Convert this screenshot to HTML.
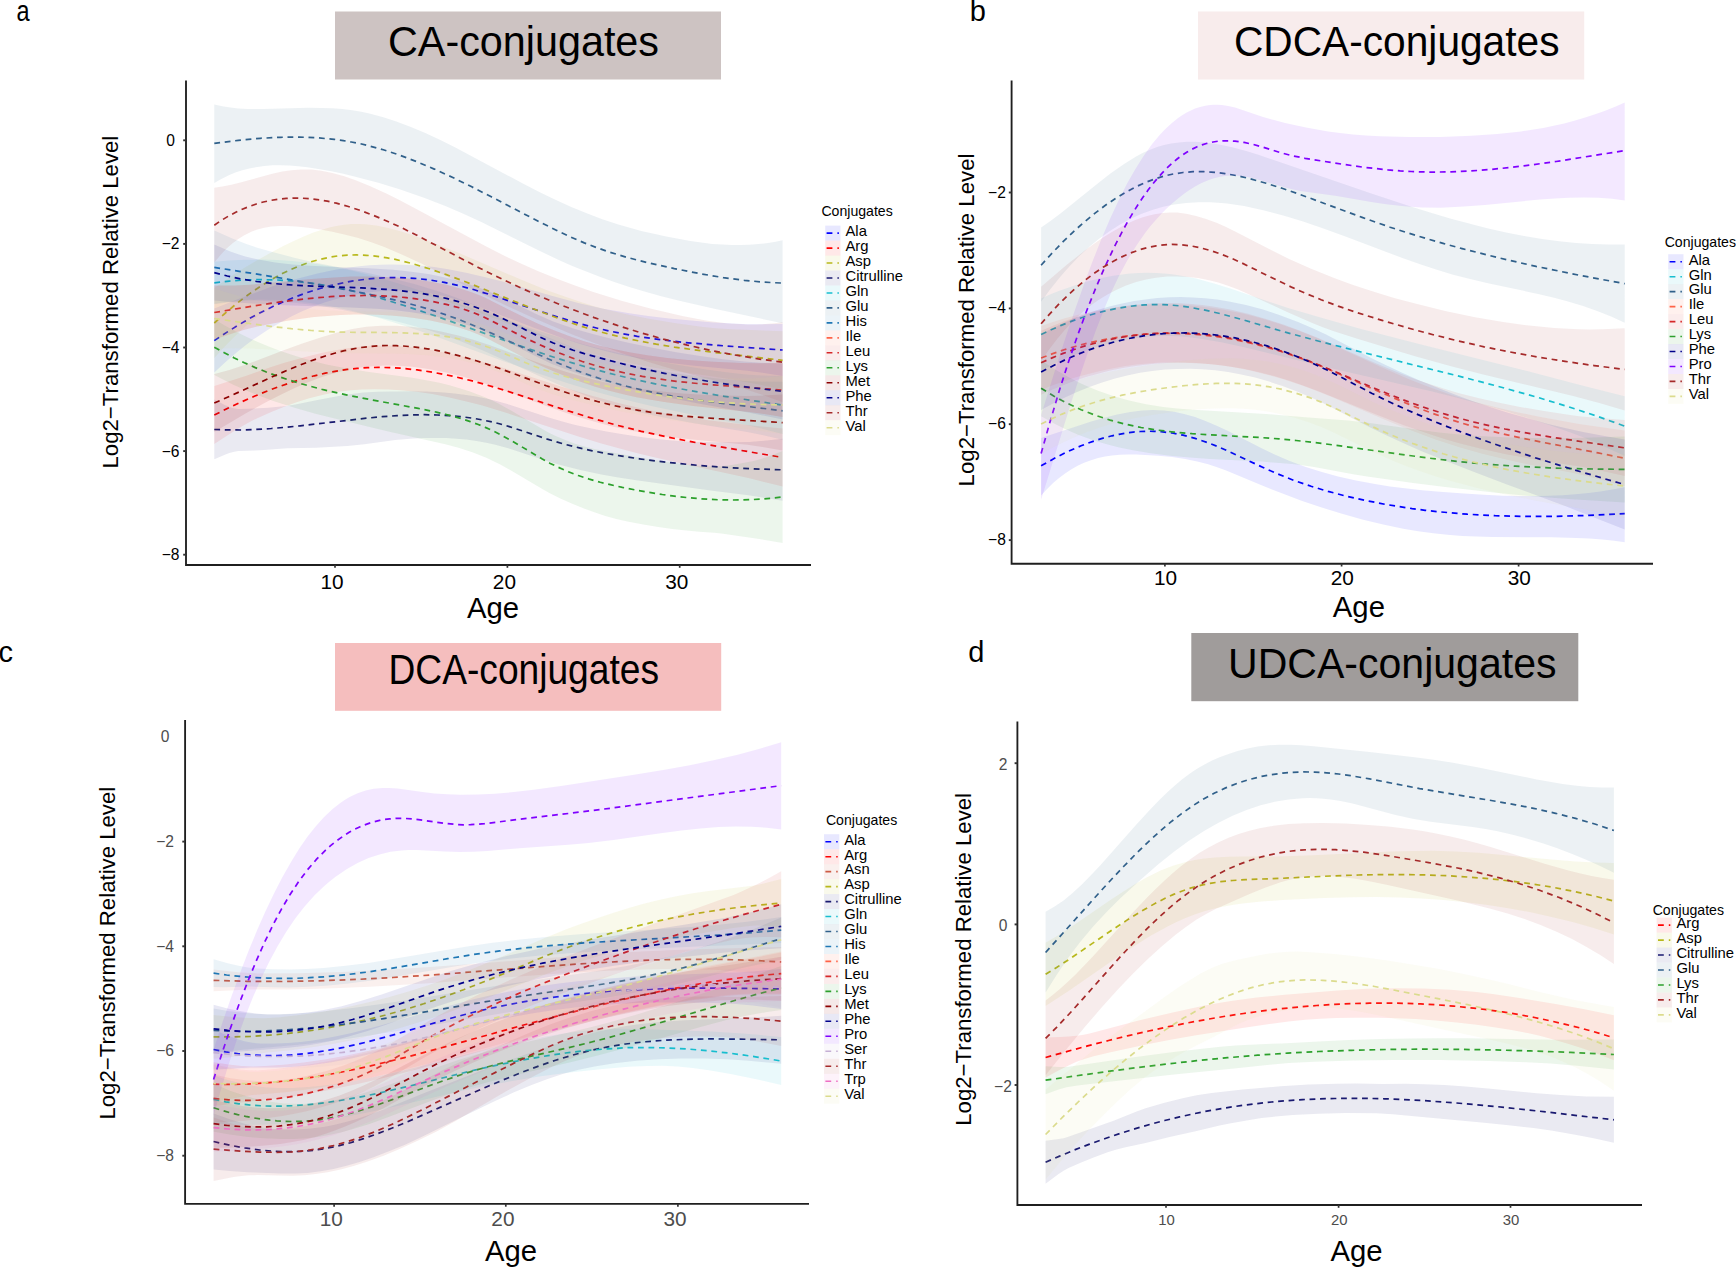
<!DOCTYPE html>
<html lang="en"><head><meta charset="utf-8"><title>Conjugates by age</title>
<style>
html,body{margin:0;padding:0;background:#fff;}
body{width:1736px;height:1269px;overflow:hidden;}
svg{display:block;}
svg text{font-family:"Liberation Sans",sans-serif;}
</style></head><body>
<svg width="1736" height="1269" viewBox="0 0 1736 1269">
<rect width="1736" height="1269" fill="#fff"/>

<g font-size="29" fill="#000">
<text transform="translate(16.6,21.2) scale(0.81,1)">a</text><text x="969.8" y="21.2">b</text><text x="-1.5" y="662.2">c</text><text x="968.3" y="662.2">d</text>
</g>
<rect x="335" y="11.5" width="386" height="68" fill="#cdc3c2"/><text x="388" y="56" font-size="43" textLength="271" lengthAdjust="spacingAndGlyphs">CA-conjugates</text>
<rect x="1198" y="11.5" width="386.2" height="68" fill="#f8ecec"/><text x="1234" y="55.5" font-size="43" textLength="325.5" lengthAdjust="spacingAndGlyphs">CDCA-conjugates</text>
<rect x="335" y="643" width="386.2" height="67.8" fill="#f5bebe"/><text x="388.5" y="683.8" font-size="43" textLength="270.5" lengthAdjust="spacingAndGlyphs">DCA-conjugates</text>
<rect x="1191.3" y="633" width="387" height="68.2" fill="#a09c9b"/><text x="1228" y="678" font-size="43" textLength="328.5" lengthAdjust="spacingAndGlyphs">UDCA-conjugates</text>
<!-- panel a -->
<g fill-opacity="0.09" stroke="none"><path d="M214.3,308.6 236.3,299.8 273.3,286.1 294.3,279.6 317.3,273.6 330.3,270.7 339.3,269 349.3,267.4 359.3,266.2 369.3,265.3 380.3,264.8 391.3,264.5 402.3,264.7 418.3,265.5 434.3,267.1 448.3,269.3 467.3,273.1 485.3,277.2 503.3,281.8 554.3,296.6 579.3,303.3 603.3,308.7 629.3,313.3 648.3,316 669.3,318.5 691.3,320.6 713.3,322.4 733.3,323.6 747.3,324.2 760.3,324.3 782.6,324 782.6,376 762.3,372.7 747.3,370.7 694.3,365.8 666.3,362.6 641.3,358.7 618.3,354.2 605.3,351.1 592.3,347.6 579.3,343.7 566.3,339.5 533.3,327.6 480.3,307.2 468.3,303 458.3,299.9 442.3,295.8 427.3,293 412.3,291.2 397.3,290.6 386.3,290.8 374.3,291.7 362.3,293.3 350.3,295.6 337.3,298.7 325.3,302.3 314.3,306.2 303.3,310.8 292.3,316 280.3,322.4 268.3,329.6 256.3,337.4 246.3,344.7 236.3,352.7 225.3,362.3 214.3,372.5Z" fill="#0000ff"/></g>
<g fill="none" stroke-width="1.7" stroke-dasharray="5.8 4.7"><path d="M214.3,340.6 226.3,332.6 238.3,325.1 250.3,318.1 261.3,312.2 273.3,306.3 284.3,301.4 296.3,296.5 307.3,292.5 319.3,288.7 330.3,285.7 342.3,283 353.3,280.9 365.3,279.3 376.3,278.2 388.3,277.6 399.3,277.6 414.3,278.3 429.3,279.9 444.3,282.4 460.3,286 474.3,289.8 489.3,294.4 548.3,314 573.3,321.8 586.3,325.4 598.3,328.5 610.3,331.2 623.3,333.8 637.3,336.3 652.3,338.5 667.3,340.5 684.3,342.4 718.3,345.4 782.6,350" stroke="#0000ff"/></g>
<g fill-opacity="0.09" stroke="none"><path d="M214.3,386.1 246.3,375.7 270.3,367.3 284.3,362.8 303.3,357.4 322.3,352.8 334.3,350.4 345.3,348.6 355.3,347.2 364.3,346.2 373.3,345.6 382.3,345.4 390.3,345.6 400.3,346.2 416.3,347.8 433.3,350.3 451.3,353.9 469.3,358.1 484.3,362.2 500.3,366.9 559.3,385.9 588.3,394.7 618.3,402.9 647.3,409.7 661.3,412.6 675.3,415.1 706.3,419.9 745.3,424.8 782.6,428.5 782.6,486.5 748.3,478.1 689.3,465.2 657.3,458 639.3,453.7 623.3,449.6 601.3,443.4 578.3,436.4 500.3,410.9 482.3,405.6 466.3,401.4 449.3,397.4 432.3,394.1 416.3,391.8 400.3,390.2 388.3,389.5 374.3,389.3 362.3,389.5 351.3,390.3 340.3,391.5 330.3,393.2 320.3,395.4 309.3,398.3 297.3,402 284.3,406.7 271.3,412 257.3,418.2 248.3,422.8 238.3,428.5 227.3,435.4 214.3,444Z" fill="#ff0000"/></g>
<g fill="none" stroke-width="1.7" stroke-dasharray="5.8 4.7"><path d="M214.3,415 228.3,408.1 241.3,402 254.3,396.3 267.3,391 279.3,386.5 291.3,382.4 303.3,378.7 314.3,375.8 325.3,373.2 336.3,371.1 347.3,369.4 357.3,368.4 367.3,367.7 378.3,367.4 389.3,367.6 400.3,368.2 417.3,369.9 434.3,372.5 452.3,376.1 472.3,380.9 487.3,385.1 504.3,390.2 560.3,408.4 588.3,417.1 615.3,424.8 641.3,431.3 665.3,436.6 692.3,441.9 718.3,446.5 782.6,457.5" stroke="#ff0000"/></g>
<g fill-opacity="0.09" stroke="none"><path d="M214.3,288.1 224.3,280.9 234.3,274.2 245.3,267.3 256.3,260.8 269.3,253.5 283.3,246.1 294.3,240.7 304.3,236.2 313.3,232.6 321.3,229.9 329.3,227.6 336.3,226 344.3,224.7 351.3,224.1 358.3,224 365.3,224.3 376.3,225.6 388.3,228 401.3,231.5 415.3,236.1 434.3,243.2 455.3,251.4 520.3,279.3 546.3,289.9 563.3,296.1 579.3,301.6 593.3,305.9 608.3,310 628.3,314.7 650.3,319.1 674.3,323.1 701.3,326.8 715.3,328.2 731.3,329.3 782.6,331.3 782.6,389.3 752.3,383.2 727.3,378.7 709.3,375.9 675.3,371.2 652.3,367.5 631.3,363.4 612.3,359 590.3,353 568.3,345.9 551.3,339.8 479.3,312.7 456.3,304.7 436.3,298.2 419.3,293.7 402.3,290.2 385.3,287.8 368.3,286.3 355.3,285.9 343.3,286 333.3,286.6 323.3,287.8 313.3,289.6 303.3,292.2 294.3,295.3 285.3,299.2 276.3,303.8 268.3,308.7 260.3,314.3 251.3,321.3 242.3,329.2 233.3,337.7 224.3,347 214.3,358Z" fill="#b8b81c"/></g>
<g fill="none" stroke-width="1.7" stroke-dasharray="5.8 4.7"><path d="M214.3,323 224.3,314 234.3,305.5 244.3,297.6 253.3,291.1 263.3,284.5 272.3,279 282.3,273.6 291.3,269.3 301.3,265.2 310.3,262 319.3,259.5 328.3,257.5 337.3,256 347.3,255.1 356.3,254.9 366.3,255.3 373.3,255.9 380.3,256.8 387.3,257.9 395.3,259.4 411.3,263.3 429.3,268.8 446.3,274.6 465.3,281.7 531.3,308.1 558.3,318.3 572.3,323.3 585.3,327.5 597.3,331 610.3,334.5 625.3,338.1 640.3,341.2 656.3,344.2 674.3,347.1 708.3,351.7 782.6,360.3" stroke="#b8b81c"/></g>
<g fill-opacity="0.09" stroke="none"><path d="M214.3,399.6 225.3,405.3 232.3,407.9 235.3,408.6 238.3,408.9 248.3,408.8 268.3,407.8 286.3,406.1 295.3,404.6 316.3,400.2 341.3,395.6 353.3,393.7 363.3,392.5 377.3,391.8 410.3,391.3 425.3,391.5 440.3,392.2 452.3,393.2 464.3,394.7 476.3,396.6 487.3,398.8 497.3,401.2 507.3,404 550.3,418.1 562.3,421.6 574.3,424.7 589.3,428.1 606.3,431.5 624.3,434.5 644.3,437.4 661.3,439.5 678.3,441 696.3,441.9 715.3,442.3 736.3,442.3 749.3,441.9 764.3,440.8 782.6,438.8 782.6,500.8 748.3,495.3 712.3,490.7 636.3,480.3 618.3,477.6 601.3,474.6 580.3,470.1 560.3,465 545.3,460.5 511.3,449.2 495.3,444.7 486.3,442.7 476.3,440.9 466.3,439.6 456.3,438.7 446.3,438.1 435.3,437.9 424.3,438 413.3,438.5 395.3,439.9 364.3,444.3 347.3,445.9 316.3,447.7 287.3,448.3 260.3,450.3 238.3,451.1 234.3,451.7 229.3,453.1 224.3,454.9 214.3,459.3Z" fill="#191970"/></g>
<g fill="none" stroke-width="1.7" stroke-dasharray="5.8 4.7"><path d="M214.3,429.5 227.3,429.9 241.3,430 255.3,429.5 271.3,428.5 285.3,427.3 300.3,425.8 366.3,418.2 382.3,416.7 397.3,415.6 411.3,414.9 424.3,414.7 437.3,415 449.3,415.6 460.3,416.6 471.3,418 482.3,419.9 492.3,422 500.3,424 509.3,426.6 547.3,439.1 566.3,444.7 579.3,447.9 592.3,450.8 606.3,453.5 620.3,455.9 639.3,458.8 658.3,461.3 678.3,463.5 698.3,465.4 718.3,466.9 739.3,468.2 760.3,469.1 782.6,469.8" stroke="#191970"/></g>
<g fill-opacity="0.09" stroke="none"><path d="M214.3,261.8 228.3,260.6 244.3,259.8 262.3,259.6 277.3,260 292.3,261 307.3,262.7 322.3,264.9 337.3,267.6 351.3,270.6 366.3,274.3 382.3,278.7 398.3,283.4 432.3,294.4 508.3,320.7 540.3,331.4 558.3,337 575.3,342 591.3,346.4 606.3,350.2 629.3,355.5 653.3,360.4 680.3,365.3 706.3,369.4 728.3,372.4 746.3,374.4 761.3,375.4 782.6,376.1 782.6,434.1 761.3,428.6 746.3,425.1 685.3,413.3 652.3,406.3 624.3,399.5 597.3,392.3 569.3,383.8 538.3,373.5 506.3,362.2 439.3,337.8 408.3,327.1 392.3,322 377.3,317.5 363.3,313.7 349.3,310.2 330.3,306.3 312.3,303.3 294.3,301.2 277.3,300 260.3,299.6 246.3,300 230.3,301.5 214.3,303.8Z" fill="#17becf"/></g>
<g fill="none" stroke-width="1.7" stroke-dasharray="5.8 4.7"><path d="M214.3,282.8 229.3,281.1 245.3,279.9 261.3,279.6 277.3,280 293.3,281.1 309.3,282.9 326.3,285.5 343.3,288.9 357.3,292.1 371.3,295.7 386.3,300 403.3,305.2 435.3,315.9 507.3,341.4 539.3,352.4 556.3,358 572.3,362.9 587.3,367.3 602.3,371.4 620.3,376 639.3,380.4 658.3,384.5 679.3,388.6 701.3,392.5 724.3,396.3 782.6,405.1" stroke="#17becf"/></g>
<g fill-opacity="0.09" stroke="none"><path d="M214.3,104.5 222.3,106.3 230.3,107.6 238.3,108.5 247.3,109 263.3,109.1 308.3,107.8 321.3,107.9 332.3,108.3 342.3,109.1 352.3,110.3 361.3,111.8 370.3,113.8 383.3,117.2 396.3,121.5 410.3,126.7 425.3,133.1 440.3,140.1 456.3,148.1 523.3,183.7 539.3,191.9 554.3,199.2 571.3,207 587.3,213.6 602.3,219.2 618.3,224.4 641.3,230.9 666.3,236.6 690.3,241 701.3,242.6 712.3,243.9 722.3,244.6 731.3,245 740.3,245.1 749.3,244.8 758.3,244.1 766.3,243.2 774.3,241.9 782.6,240.2 782.6,323.3 714.3,308.8 679.3,300.8 661.3,296.2 645.3,291.8 629.3,286.9 614.3,282 600.3,277 586.3,271.6 572.3,265.9 559.3,260.2 537.3,249.8 481.3,221.9 463.3,213.7 445.3,206 423.3,197.5 400.3,189.5 378.3,182.7 356.3,176.9 343.3,173.8 331.3,171.3 318.3,169 307.3,167.3 298.3,166.2 289.3,165.5 280.3,165.2 272.3,165.3 264.3,165.9 257.3,166.9 249.3,168.4 242.3,170.3 235.3,172.6 228.3,175.5 221.3,178.9 214.3,182.9Z" fill="#30608a"/></g>
<g fill="none" stroke-width="1.7" stroke-dasharray="5.8 4.7"><path d="M214.3,143.3 238.3,140.4 260.3,138.3 280.3,137.3 299.3,137.1 317.3,137.8 334.3,139.4 343.3,140.6 351.3,142 359.3,143.5 367.3,145.4 383.3,149.8 399.3,155 416.3,161.5 434.3,169.1 452.3,177.3 471.3,186.6 491.3,196.8 537.3,220.8 560.3,232.2 572.3,237.7 584.3,242.9 595.3,247.1 607.3,251.4 626.3,257.2 647.3,262.6 674.3,268.6 701.3,273.9 723.3,277.6 744.3,280.3 764.3,282.2 782.6,283.1" stroke="#30608a"/></g>
<g fill-opacity="0.09" stroke="none"><path d="M214.3,230.5 232.3,238.5 246.3,244.1 257.3,247.8 273.3,252.2 295.3,258 313.3,262.2 363.3,272 390.3,277.9 414.3,284 437.3,290.9 455.3,297.2 473.3,304.3 490.3,311.7 535.3,332 562.3,343.3 575.3,348.3 588.3,352.8 600.3,356.6 613.3,360.3 632.3,365 652.3,369.1 674.3,372.9 697.3,376.2 720.3,378.8 744.3,380.9 759.3,381.6 782.6,381.8 782.6,439.8 762.3,435 747.3,431.9 691.3,422.7 662.3,417.3 649.3,414.5 636.3,411.4 624.3,408.2 612.3,404.7 600.3,400.8 589.3,397 565.3,387.5 541.3,377.1 486.3,351.9 472.3,345.9 459.3,340.7 443.3,334.9 427.3,329.7 410.3,324.9 392.3,320.3 364.3,314.2 328.3,307.3 312.3,304.8 294.3,302.8 269.3,301.1 258.3,300.5 251.3,300.5 243.3,300.8 235.3,301.5 214.3,304.3Z" fill="#1f77b4"/></g>
<g fill="none" stroke-width="1.7" stroke-dasharray="5.8 4.7"><path d="M214.3,267.4 254.3,273.7 287.3,279.1 318.3,284.5 346.3,289.7 367.3,293.8 386.3,297.9 404.3,302.3 420.3,306.7 433.3,310.6 445.3,314.6 457.3,318.9 468.3,323.2 489.3,332.2 544.3,357.2 560.3,364 574.3,369.6 587.3,374.4 600.3,378.7 614.3,382.9 628.3,386.7 642.3,390 656.3,393 671.3,395.8 687.3,398.4 720.3,403.1 782.6,410.8" stroke="#1f77b4"/></g>
<g fill-opacity="0.09" stroke="none"><path d="M214.3,285.6 235.3,285.4 250.3,284.7 311.3,279.1 334.3,277.4 351.3,276.6 369.3,276.5 386.3,276.9 402.3,278 418.3,279.8 432.3,282 446.3,284.8 459.3,288.2 470.3,291.7 478.3,294.7 485.3,297.8 525.3,317.8 539.3,324.2 553.3,330.1 568.3,335.8 583.3,340.9 597.3,345 612.3,348.7 629.3,352.3 647.3,355.3 667.3,357.9 688.3,360 713.3,361.7 741.3,362.9 756.3,363.2 782.6,363.1 782.6,417.1 764.3,414.1 749.3,412 693.3,405.9 664.3,402 649.3,399.5 635.3,396.9 622.3,394 609.3,390.7 595.3,386.7 581.3,382.1 567.3,376.9 552.3,370.8 539.3,365 525.3,358.3 486.3,338 478.3,334.4 470.3,331.2 458.3,327.2 445.3,323.7 430.3,320.5 414.3,317.9 402.3,316.5 390.3,315.5 378.3,314.8 366.3,314.6 353.3,314.6 340.3,315.1 327.3,315.9 314.3,317.1 301.3,318.7 287.3,320.8 271.3,323.7 256.3,326.7 247.3,328.9 238.3,331.5 214.3,339.5Z" fill="#ff6347"/></g>
<g fill-opacity="0.09" stroke="none"><path d="M214.3,285.6 235.3,285.4 250.3,284.7 311.3,279.1 334.3,277.4 351.3,276.6 369.3,276.5 386.3,276.9 402.3,278 418.3,279.8 432.3,282 446.3,284.8 459.3,288.2 470.3,291.7 478.3,294.7 485.3,297.8 525.3,317.8 539.3,324.2 553.3,330.1 568.3,335.8 583.3,340.9 597.3,345 612.3,348.7 629.3,352.3 647.3,355.3 667.3,357.9 688.3,360 713.3,361.7 741.3,362.9 756.3,363.2 782.6,363.1 782.6,417.1 764.3,414.1 749.3,412 693.3,405.9 664.3,402 649.3,399.5 635.3,396.9 622.3,394 609.3,390.7 595.3,386.7 581.3,382.1 567.3,376.9 552.3,370.8 539.3,365 525.3,358.3 486.3,338 478.3,334.4 470.3,331.2 458.3,327.2 445.3,323.7 430.3,320.5 414.3,317.9 402.3,316.5 390.3,315.5 378.3,314.8 366.3,314.6 353.3,314.6 340.3,315.1 327.3,315.9 314.3,317.1 301.3,318.7 287.3,320.8 271.3,323.7 256.3,326.7 247.3,328.9 238.3,331.5 214.3,339.5Z" fill="#d62728"/></g>
<g fill="none" stroke-width="1.7" stroke-dasharray="5.8 4.7"><path d="M214.3,312.5 251.3,306.3 280.3,301.9 306.3,298.7 330.3,296.7 342.3,296 353.3,295.6 364.3,295.5 375.3,295.6 386.3,296.1 396.3,296.7 406.3,297.7 416.3,298.9 431.3,301.3 446.3,304.4 459.3,307.8 470.3,311.4 478.3,314.6 485.3,317.7 525.3,338 539.3,344.6 553.3,350.6 568.3,356.5 582.3,361.5 596.3,365.8 611.3,369.9 626.3,373.3 642.3,376.4 658.3,378.9 676.3,381.3 692.3,383 710.3,384.6 782.6,390.1" stroke="#d62728"/></g>
<g fill-opacity="0.09" stroke="none"><path d="M214.3,319.2 224.3,325.2 235.3,331.2 246.3,336.8 257.3,341.8 269.3,346.8 281.3,351.3 293.3,355.3 306.3,359.2 326.3,364.4 347.3,368.6 367.3,371.7 412.3,377.8 430.3,380.9 439.3,382.8 450.3,385.5 460.3,388.4 469.3,391.3 484.3,397 492.3,400.5 499.3,404 512.3,411.2 542.3,429 550.3,433.4 556.3,436.3 565.3,440.1 574.3,443.4 584.3,446.4 594.3,448.9 607.3,451.6 636.3,457.1 661.3,461.3 675.3,463.2 688.3,464.7 702.3,465.9 713.3,466.5 721.3,466.3 730.3,465.3 740.3,463.6 752.3,461.2 759.3,459.4 766.3,457.2 774.3,454.3 782.6,450.9 782.6,542.9 759.3,539 721.3,533.4 714.3,532.7 699.3,531.7 686.3,530.5 672.3,528.9 658.3,526.9 643.3,524.4 627.3,521.4 616.3,518.9 605.3,515.9 594.3,512.3 583.3,508.3 572.3,503.8 560.3,498.4 550.3,493.4 542.3,489 512.3,471.2 500.3,464.5 486.3,457.8 472.3,452.3 459.3,448 445.3,444.2 388.3,431.4 359.3,424.6 316.3,413.9 295.3,408.1 273.3,401 253.3,393.4 233.3,384.7 214.3,375.1Z" fill="#2ca02c"/></g>
<g fill="none" stroke-width="1.7" stroke-dasharray="5.8 4.7"><path d="M214.3,347.2 224.3,352.7 234.3,357.9 244.3,362.7 255.3,367.6 266.3,372 277.3,376.1 289.3,380.1 301.3,383.8 323.3,389.7 347.3,395.1 372.3,400 418.3,408.4 436.3,412.1 445.3,414.2 454.3,416.6 462.3,419 470.3,421.6 478.3,424.5 485.3,427.4 493.3,431 500.3,434.5 512.3,441.2 542.3,459 550.3,463.4 558.3,467.3 568.3,471.7 578.3,475.5 589.3,479.1 600.3,482.3 610.3,484.7 622.3,487.4 636.3,490.1 649.3,492.4 662.3,494.5 674.3,496.1 686.3,497.5 697.3,498.5 708.3,499.3 719.3,499.8 730.3,500 741.3,499.9 752.3,499.6 762.3,499 772.3,498.1 782.6,496.9" stroke="#2ca02c"/></g>
<g fill-opacity="0.09" stroke="none"><path d="M214.3,374 229.3,369.9 244.3,365.1 254.3,361.6 282.3,350.8 302.3,343.5 321.3,337.2 337.3,332.5 352.3,329 366.3,326.8 381.3,325.7 396.3,325.7 411.3,326.7 426.3,328.6 442.3,331.7 458.3,335.5 473.3,339.8 489.3,344.9 543.3,364.4 567.3,372.3 582.3,376.6 597.3,380.5 612.3,383.9 626.3,386.6 643.3,389.3 662.3,391.6 682.3,393.5 703.3,394.8 724.3,395.6 745.3,396 759.3,395.7 782.6,394.6 782.6,450.6 762.3,447 747.3,444.8 692.3,439.6 665.3,436.4 643.3,433 623.3,429.1 610.3,426 597.3,422.6 584.3,418.8 571.3,414.7 548.3,406.7 497.3,387.7 480.3,381.9 464.3,377.1 446.3,372.5 428.3,369 412.3,366.8 396.3,365.7 386.3,365.6 376.3,365.9 366.3,366.8 357.3,368.1 347.3,370 337.3,372.5 327.3,375.3 317.3,378.7 306.3,383 295.3,387.8 282.3,394 268.3,401.1 247.3,412.4 214.3,431.9Z" fill="#8b0000"/></g>
<g fill="none" stroke-width="1.7" stroke-dasharray="5.8 4.7"><path d="M214.3,403 232.3,395.1 272.3,376.8 288.3,369.8 308.3,361.8 325.3,356 335.3,353 344.3,350.7 353.3,348.8 361.3,347.5 369.3,346.5 378.3,345.8 387.3,345.5 396.3,345.7 403.3,346 411.3,346.7 419.3,347.6 427.3,348.8 435.3,350.2 444.3,352.1 461.3,356.3 476.3,360.7 493.3,366.3 508.3,371.6 546.3,385.7 569.3,393.5 583.3,397.7 597.3,401.5 611.3,405 625.3,408 638.3,410.3 652.3,412.5 667.3,414.4 683.3,416.1 713.3,418.4 782.6,422.6" stroke="#8b0000"/></g>
<g fill-opacity="0.09" stroke="none"><path d="M214.3,244.6 230.3,251.4 238.3,254.3 245.3,256.5 258.3,259.6 275.3,262.4 292.3,264.4 310.3,265.8 325.3,266.6 368.3,268.2 393.3,269.8 405.3,270.9 417.3,272.4 428.3,274.1 438.3,276 449.3,278.5 459.3,281.2 469.3,284.3 479.3,287.7 490.3,292 500.3,296.3 537.3,314.4 553.3,321.4 563.3,325.1 574.3,328.7 587.3,332.4 604.3,336.9 627.3,342.4 651.3,347.5 676.3,352.2 700.3,356.1 723.3,359.2 744.3,361.5 761.3,362.7 782.6,363.4 782.6,419.4 749.3,412.8 698.3,403.5 667.3,397.2 648.3,392.9 629.3,388.2 611.3,383.4 593.3,378.3 580.3,374.3 569.3,370.6 560.3,367.3 551.3,363.7 537.3,357.1 502.3,339.3 492.3,334.7 481.3,330.1 470.3,326.1 458.3,322.2 446.3,318.9 434.3,316.2 422.3,313.9 409.3,311.9 395.3,310.3 380.3,309.1 350.3,307.5 277.3,305.1 229.3,301.9 214.3,300.5Z" fill="#00008b"/></g>
<g fill="none" stroke-width="1.7" stroke-dasharray="5.8 4.7"><path d="M214.3,272.6 227.3,276 241.3,279 256.3,281.4 271.3,283.3 286.3,284.6 302.3,285.7 361.3,287.9 386.3,289.4 399.3,290.5 412.3,292.1 424.3,293.9 436.3,296.1 447.3,298.6 458.3,301.6 469.3,305 480.3,308.9 491.3,313.3 501.3,317.8 537.3,335.7 545.3,339.5 553.3,343 563.3,346.8 573.3,350.2 584.3,353.6 599.3,357.8 620.3,363.3 642.3,368.6 664.3,373.3 686.3,377.5 709.3,381.5 732.3,385 757.3,388.4 782.6,391.4" stroke="#00008b"/></g>
<g fill-opacity="0.09" stroke="none"><path d="M214.3,187.8 222.3,186.6 231.3,184.8 241.3,182.3 272.3,173.8 282.3,171.6 291.3,170.2 301.3,169.4 311.3,169.6 321.3,170.7 332.3,172.9 344.3,176.2 356.3,180.4 370.3,186.2 386.3,193.6 400.3,200.5 416.3,208.9 485.3,246.1 503.3,255.2 520.3,263.3 538.3,271.2 556.3,278.5 574.3,285.3 593.3,291.9 622.3,300.9 651.3,308.7 682.3,316 695.3,318.6 707.3,320.7 718.3,322.3 728.3,323.4 738.3,324.1 747.3,324.5 756.3,324.5 765.3,324.1 774.3,323.3 782.6,322.2 782.6,402.2 764.3,395.4 743.3,388.6 723.3,382.9 675.3,370 649.3,362.2 621.3,352.9 592.3,342.2 572.3,334.4 552.3,326.1 531.3,317 509.3,307 477.3,291.8 421.3,263.5 398.3,252.9 384.3,247.1 371.3,242.3 358.3,238.1 344.3,234.4 332.3,231.7 320.3,229.5 308.3,227.8 296.3,226.5 287.3,225.9 279.3,225.9 271.3,226.5 264.3,227.7 257.3,229.5 251.3,231.7 244.3,235.2 238.3,238.9 232.3,243.4 226.3,248.8 220.3,255.2 214.3,262.6Z" fill="#a52a2a"/></g>
<g fill="none" stroke-width="1.7" stroke-dasharray="5.8 4.7"><path d="M214.3,225.2 221.3,220.4 228.3,216.2 235.3,212.5 242.3,209.2 249.3,206.4 256.3,204 263.3,202 271.3,200.3 278.3,199.2 286.3,198.4 294.3,198.1 302.3,198.2 310.3,198.8 319.3,199.9 327.3,201.2 336.3,203.2 348.3,206.5 360.3,210.4 373.3,215.3 387.3,221.2 400.3,227.1 415.3,234.5 478.3,267.4 494.3,275.4 511.3,283.5 531.3,292.6 552.3,301.5 573.3,309.8 594.3,317.6 617.3,325.4 640.3,332.6 663.3,339.1 687.3,345.1 710.3,350.3 734.3,354.9 758.3,358.9 782.6,362.2" stroke="#a52a2a"/></g>
<g fill-opacity="0.09" stroke="none"><path d="M214.3,288.6 237.3,295.5 255.3,300 283.3,305.3 295.3,307.2 307.3,308.8 323.3,310.3 339.3,311.1 355.3,311.4 394.3,311.7 415.3,312.4 425.3,313 435.3,314 444.3,315.2 453.3,316.7 461.3,318.4 470.3,320.7 478.3,323 487.3,325.9 503.3,332 534.3,345.2 545.3,349.1 557.3,352.8 573.3,356.9 591.3,360.9 613.3,365.1 636.3,368.9 659.3,372.2 681.3,374.8 702.3,376.7 722.3,378 740.3,378.6 751.3,378.5 765.3,377.7 782.6,376 782.6,434 751.3,429.8 705.3,424.9 672.3,420.5 654.3,417.7 637.3,414.6 620.3,411.2 602.3,407.3 585.3,403.3 571.3,399.7 559.3,396.3 548.3,392.7 531.3,386.3 509.3,376.5 500.3,372.8 490.3,369 480.3,365.6 471.3,362.9 462.3,360.6 453.3,358.7 444.3,357.2 427.3,355.2 407.3,354 391.3,353.6 341.3,353.2 296.3,351.1 251.3,348.6 235.3,348.3 214.3,348.5Z" fill="#dbdb8d"/></g>
<g fill="none" stroke-width="1.7" stroke-dasharray="5.8 4.7"><path d="M214.3,318.5 246.3,323.1 270.3,326.3 291.3,328.7 311.3,330.5 327.3,331.6 343.3,332.2 392.3,332.6 410.3,333.1 428.3,334.3 437.3,335.3 445.3,336.4 455.3,338.1 465.3,340.4 475.3,343.1 485.3,346.2 494.3,349.4 503.3,353 526.3,363 534.3,366.3 544.3,370 554.3,373.3 565.3,376.5 577.3,379.6 592.3,383 608.3,386.4 629.3,390.4 651.3,394.1 673.3,397.3 695.3,399.9 717.3,402 739.3,403.5 761.3,404.5 782.6,405" stroke="#dbdb8d"/></g>
<path d="M186,80.5 V565 H811" fill="none" stroke="#1f1f1f" stroke-width="1.85"/>
<path d="M335,565 v2.8" stroke="#333" stroke-width="1.7"/>
<text x="332" y="588.8" font-size="20.8" text-anchor="middle" fill="#000">10</text>
<path d="M507.4,565 v2.8" stroke="#333" stroke-width="1.7"/>
<text x="504.4" y="588.8" font-size="20.8" text-anchor="middle" fill="#000">20</text>
<path d="M679.7,565 v2.8" stroke="#333" stroke-width="1.7"/>
<text x="676.7" y="588.8" font-size="20.8" text-anchor="middle" fill="#000">30</text>
<path d="M186,140.3 h-2.8" stroke="#333" stroke-width="1.9"/>
<text x="170.6" y="145.7" font-size="15.6" text-anchor="middle" fill="#000">0</text>
<path d="M186,243.9 h-2.8" stroke="#333" stroke-width="1.9"/>
<text x="170.6" y="249.3" font-size="15.6" text-anchor="middle" fill="#000">−2</text>
<path d="M186,347.5 h-2.8" stroke="#333" stroke-width="1.9"/>
<text x="170.6" y="352.9" font-size="15.6" text-anchor="middle" fill="#000">−4</text>
<path d="M186,451.1 h-2.8" stroke="#333" stroke-width="1.9"/>
<text x="170.6" y="456.5" font-size="15.6" text-anchor="middle" fill="#000">−6</text>
<path d="M186,554.7 h-2.8" stroke="#333" stroke-width="1.9"/>
<text x="170.6" y="560.1" font-size="15.6" text-anchor="middle" fill="#000">−8</text>
<text x="493" y="617.6" font-size="29.3" text-anchor="middle">Age</text>
<text transform="translate(117.8,302.1) rotate(-90)" font-size="22.2" text-anchor="middle">Log2−Transformed Relative Level</text>
<text x="821.4" y="215.7" font-size="14.1">Conjugates</text>
<rect x="825.2" y="225.6" width="15.3" height="15" fill="#0000ff" fill-opacity="0.09"/>
<path d="M826.6,233.1 h12.3" stroke="#0000ff" stroke-width="1.6" stroke-dasharray="5.8 5" fill="none"/>
<text x="845.5" y="235.9" font-size="14.8">Ala</text>
<rect x="825.2" y="240.6" width="15.3" height="15" fill="#ff0000" fill-opacity="0.09"/>
<path d="M826.6,248.1 h12.3" stroke="#ff0000" stroke-width="1.6" stroke-dasharray="5.8 5" fill="none"/>
<text x="845.5" y="250.9" font-size="14.8">Arg</text>
<rect x="825.2" y="255.5" width="15.3" height="15" fill="#b8b81c" fill-opacity="0.09"/>
<path d="M826.6,263 h12.3" stroke="#b8b81c" stroke-width="1.6" stroke-dasharray="5.8 5" fill="none"/>
<text x="845.5" y="265.8" font-size="14.8">Asp</text>
<rect x="825.2" y="270.5" width="15.3" height="15" fill="#191970" fill-opacity="0.09"/>
<path d="M826.6,278 h12.3" stroke="#191970" stroke-width="1.6" stroke-dasharray="5.8 5" fill="none"/>
<text x="845.5" y="280.8" font-size="14.8">Citrulline</text>
<rect x="825.2" y="285.5" width="15.3" height="15" fill="#17becf" fill-opacity="0.09"/>
<path d="M826.6,293 h12.3" stroke="#17becf" stroke-width="1.6" stroke-dasharray="5.8 5" fill="none"/>
<text x="845.5" y="295.8" font-size="14.8">Gln</text>
<rect x="825.2" y="300.4" width="15.3" height="15" fill="#30608a" fill-opacity="0.09"/>
<path d="M826.6,307.9 h12.3" stroke="#30608a" stroke-width="1.6" stroke-dasharray="5.8 5" fill="none"/>
<text x="845.5" y="310.8" font-size="14.8">Glu</text>
<rect x="825.2" y="315.4" width="15.3" height="15" fill="#1f77b4" fill-opacity="0.09"/>
<path d="M826.6,322.9 h12.3" stroke="#1f77b4" stroke-width="1.6" stroke-dasharray="5.8 5" fill="none"/>
<text x="845.5" y="325.7" font-size="14.8">His</text>
<rect x="825.2" y="330.4" width="15.3" height="15" fill="#ff6347" fill-opacity="0.09"/>
<path d="M826.6,337.9 h12.3" stroke="#ff6347" stroke-width="1.6" stroke-dasharray="5.8 5" fill="none"/>
<text x="845.5" y="340.7" font-size="14.8">Ile</text>
<rect x="825.2" y="345.4" width="15.3" height="15" fill="#d62728" fill-opacity="0.09"/>
<path d="M826.6,352.8 h12.3" stroke="#d62728" stroke-width="1.6" stroke-dasharray="5.8 5" fill="none"/>
<text x="845.5" y="355.7" font-size="14.8">Leu</text>
<rect x="825.2" y="360.3" width="15.3" height="15" fill="#2ca02c" fill-opacity="0.09"/>
<path d="M826.6,367.8 h12.3" stroke="#2ca02c" stroke-width="1.6" stroke-dasharray="5.8 5" fill="none"/>
<text x="845.5" y="370.6" font-size="14.8">Lys</text>
<rect x="825.2" y="375.3" width="15.3" height="15" fill="#8b0000" fill-opacity="0.09"/>
<path d="M826.6,382.8 h12.3" stroke="#8b0000" stroke-width="1.6" stroke-dasharray="5.8 5" fill="none"/>
<text x="845.5" y="385.6" font-size="14.8">Met</text>
<rect x="825.2" y="390.3" width="15.3" height="15" fill="#00008b" fill-opacity="0.09"/>
<path d="M826.6,397.8 h12.3" stroke="#00008b" stroke-width="1.6" stroke-dasharray="5.8 5" fill="none"/>
<text x="845.5" y="400.6" font-size="14.8">Phe</text>
<rect x="825.2" y="405.2" width="15.3" height="15" fill="#a52a2a" fill-opacity="0.09"/>
<path d="M826.6,412.7 h12.3" stroke="#a52a2a" stroke-width="1.6" stroke-dasharray="5.8 5" fill="none"/>
<text x="845.5" y="415.5" font-size="14.8">Thr</text>
<rect x="825.2" y="420.2" width="15.3" height="15" fill="#dbdb8d" fill-opacity="0.09"/>
<path d="M826.6,427.7 h12.3" stroke="#dbdb8d" stroke-width="1.6" stroke-dasharray="5.8 5" fill="none"/>
<text x="845.5" y="430.5" font-size="14.8">Val</text>
<!-- panel b -->
<g fill-opacity="0.09" stroke="none"><path d="M1041.1,438.1 1091.1,421.6 1105.1,417.5 1117.1,414.5 1130.1,412.1 1142.1,410.6 1153.1,410.1 1164.1,410.5 1174.1,411.8 1184.1,413.9 1195.1,417.1 1206.1,421.2 1216.1,425.4 1227.1,430.5 1261.1,447.9 1274.1,454.2 1289.1,460.7 1305.1,466.7 1321.1,471.8 1338.1,476.5 1356.1,480.6 1375.1,484.1 1390.1,486.4 1405.1,488.3 1422.1,490.2 1440.1,491.8 1464.1,493.6 1484.1,494.8 1503.1,495.7 1520.1,496.1 1534.1,496.1 1548.1,495.8 1562.1,495.2 1575.1,494.3 1588.1,493 1600.1,491.4 1612.1,489.6 1624.7,487.2 1624.7,542.2 1614.1,540.8 1602.1,539.5 1589.1,538.6 1576.1,537.9 1551.1,537.3 1492.1,537 1476.1,536.6 1462.1,535.9 1447.1,534.8 1433.1,533.3 1418.1,531.2 1403.1,528.7 1383.1,524.6 1362.1,519.5 1341.1,513.6 1320.1,507 1302.1,500.9 1283.1,493.8 1262.1,485.6 1226.1,470.6 1217.1,467.2 1208.1,464.3 1197.1,461.4 1185.1,458.9 1172.1,457 1158.1,455.7 1136.1,454.4 1128.1,454.4 1120.1,454.7 1112.1,455.5 1105.1,456.6 1098.1,458.1 1091.1,460.2 1084.1,462.8 1078.1,465.6 1071.1,469.5 1065.1,473.4 1059.1,478 1053.1,483.1 1047.1,488.9 1041.1,495.4Z" fill="#0000ff"/></g>
<g fill="none" stroke-width="1.7" stroke-dasharray="5.8 4.7"><path d="M1041.1,465.7 1057.1,456.9 1065.1,452.9 1073.1,449.2 1081.1,445.8 1089.1,442.7 1097.1,440 1104.1,437.8 1112.1,435.8 1119.1,434.3 1126.1,433 1133.1,432.1 1140.1,431.5 1147.1,431.2 1154.1,431.3 1161.1,431.7 1172.1,433 1183.1,435.2 1195.1,438.4 1207.1,442.5 1217.1,446.3 1228.1,451.1 1263.1,467.5 1277.1,473.7 1294.1,480.5 1311.1,486.3 1328.1,491.4 1346.1,496.1 1365.1,500.4 1386.1,504.5 1412.1,508.6 1425.1,510.3 1439.1,511.8 1467.1,514.2 1495.1,515.7 1525.1,516.4 1556.1,516.3 1589.1,515.4 1624.7,513.6" stroke="#0000ff"/></g>
<g fill-opacity="0.09" stroke="none"><path d="M1041.1,298.5 1051.1,294.1 1060.1,290.5 1078.1,284.2 1087.1,281.5 1096.1,279.2 1105.1,277.2 1113.1,275.7 1122.1,274.4 1130.1,273.6 1139.1,273 1147.1,272.8 1156.1,273 1164.1,273.4 1172.1,274.2 1180.1,275.4 1196.1,278.6 1214.1,283.5 1231.1,288.8 1269.1,301.8 1288.1,307.9 1323.1,318.3 1361.1,328.9 1419.1,344.1 1528.1,371.3 1581.1,385.2 1624.7,396.2 1624.7,456.1 1609.1,448.7 1595.1,442.3 1583.1,437.3 1571.1,432.7 1549.1,425 1527.1,417.8 1505.1,411 1482.1,404.4 1458.1,398 1431.1,391.3 1318.1,365.3 1243.1,346.9 1221.1,342.2 1202.1,338.9 1191.1,337.4 1181.1,336.5 1171.1,336 1162.1,336 1153.1,336.3 1143.1,337.2 1134.1,338.3 1124.1,340.1 1114.1,342.3 1104.1,344.9 1094.1,347.9 1084.1,351.3 1074.1,355.2 1063.1,359.8 1052.1,364.9 1041.1,370.5Z" fill="#17becf"/></g>
<g fill="none" stroke-width="1.7" stroke-dasharray="5.8 4.7"><path d="M1041.1,334.5 1051.1,329.8 1061.1,325.4 1071.1,321.4 1080.1,318.2 1090.1,315 1099.1,312.4 1109.1,310 1118.1,308.2 1127.1,306.7 1136.1,305.6 1145.1,304.9 1154.1,304.6 1163.1,304.7 1171.1,305.1 1180.1,305.9 1189.1,307.2 1205.1,310.1 1222.1,314.1 1240.1,319 1286.1,332.4 1321.1,341.8 1361.1,352 1457.1,375.7 1483.1,382.4 1507.1,388.8 1539.1,397.8 1569.1,407 1597.1,416.2 1624.7,426.1" stroke="#17becf"/></g>
<g fill-opacity="0.09" stroke="none"><path d="M1041.1,227.5 1050.1,221.2 1061.1,212.9 1097.1,183.9 1110.1,173.8 1124.1,163.9 1136.1,156.5 1143.1,152.8 1150.1,149.7 1157.1,147.1 1164.1,145 1171.1,143.5 1179.1,142.4 1187.1,141.8 1195.1,141.8 1207.1,142.7 1219.1,144.5 1232.1,147.3 1246.1,151.1 1259.1,155.1 1278.1,161.4 1369.1,192.8 1409.1,206 1430.1,212.6 1450.1,218.4 1469.1,223.6 1487.1,228.2 1506.1,232.4 1524.1,236 1542.1,239 1559.1,241.3 1576.1,243 1592.1,244.1 1608.1,244.6 1624.7,244.4 1624.7,322.8 1611.1,316.6 1597.1,311 1583.1,306.1 1567.1,301.3 1554.1,297.8 1539.1,294.2 1489.1,283.4 1471.1,279.3 1453.1,274.7 1436.1,269.6 1420.1,264.3 1403.1,258.3 1346.1,236.8 1324.1,228.8 1303.1,221.6 1284.1,215.8 1263.1,210.2 1244.1,206.1 1227.1,203.6 1218.1,202.7 1210.1,202.3 1198.1,202.2 1186.1,203 1174.1,204.5 1163.1,206.8 1152.1,210 1141.1,214 1130.1,219 1120.1,224.4 1109.1,231.4 1099.1,238.7 1089.1,247 1079.1,256.3 1069.1,266.7 1060.1,276.9 1050.1,289.4 1041.1,301.7Z" fill="#30608a"/></g>
<g fill="none" stroke-width="1.7" stroke-dasharray="5.8 4.7"><path d="M1041.1,265.2 1052.1,253.1 1063.1,241.7 1074.1,231.1 1084.1,222.2 1095.1,213.1 1105.1,205.5 1115.1,198.7 1125.1,192.6 1135.1,187.2 1145.1,182.6 1155.1,178.8 1164.1,176.1 1173.1,174 1183.1,172.5 1193.1,171.7 1204.1,171.7 1211.1,172.1 1218.1,172.7 1225.1,173.7 1233.1,175 1241.1,176.6 1249.1,178.5 1266.1,183.2 1282.1,188.3 1299.1,194.1 1362.1,217.4 1390.1,227.2 1407.1,232.7 1425.1,238.2 1443.1,243.4 1462.1,248.6 1498.1,257.7 1536.1,266.4 1578.1,275 1624.7,283.7" stroke="#30608a"/></g>
<g fill-opacity="0.09" stroke="none"><path d="M1041.1,326 1052.1,322.2 1063.1,318.7 1074.1,315.7 1086.1,312.7 1097.1,310.4 1109.1,308.4 1120.1,306.8 1132.1,305.6 1143.1,304.8 1155.1,304.3 1166.1,304.3 1178.1,304.6 1189.1,305.3 1201.1,306.4 1213.1,308 1225.1,309.9 1243.1,313.6 1261.1,318.2 1279.1,323.7 1297.1,330 1312.1,335.9 1328.1,342.7 1382.1,367.5 1409.1,379.2 1423.1,384.8 1436.1,389.6 1448.1,393.8 1461.1,397.9 1478.1,402.7 1496.1,407.3 1516.1,411.9 1538.1,416.4 1579.1,424.1 1624.7,430.4 1624.7,486.3 1603.1,480.3 1586.1,476 1573.1,473.1 1531.1,465 1508.1,460.1 1483.1,454.1 1460.1,447.6 1436.1,439.7 1410.1,430 1383.1,419 1331.1,396.7 1316.1,390.7 1302.1,385.5 1284.1,379.5 1266.1,374.4 1249.1,370.3 1232.1,367 1220.1,365.3 1208.1,363.9 1196.1,362.9 1184.1,362.4 1172.1,362.3 1160.1,362.6 1148.1,363.4 1136.1,364.6 1124.1,366.3 1112.1,368.4 1100.1,370.9 1088.1,373.9 1076.1,377.3 1064.1,381.2 1052.1,385.6 1041.1,390Z" fill="#ff6347"/></g>
<g fill="none" stroke-width="1.7" stroke-dasharray="5.8 4.7"><path d="M1041.1,358 1052.1,353.9 1064.1,349.8 1075.1,346.5 1087.1,343.3 1098.1,340.8 1110.1,338.5 1122.1,336.6 1134.1,335.1 1145.1,334.2 1157.1,333.5 1169.1,333.3 1181.1,333.6 1192.1,334.1 1204.1,335.1 1216.1,336.6 1228.1,338.4 1245.1,341.8 1263.1,346.2 1281.1,351.5 1299.1,357.6 1314.1,363.3 1329.1,369.5 1382.1,393 1409.1,404.4 1423.1,409.9 1436.1,414.6 1449.1,419.1 1461.1,422.9 1474.1,426.6 1487.1,430.1 1501.1,433.5 1516.1,436.9 1539.1,441.6 1598.1,452.9 1624.7,458.3" stroke="#ff6347"/></g>
<g fill-opacity="0.09" stroke="none"><path d="M1041.1,330.7 1051.1,326.4 1062.1,322.1 1072.1,318.5 1083.1,315.1 1093.1,312.3 1104.1,309.7 1115.1,307.5 1126.1,305.8 1137.1,304.4 1148.1,303.5 1159.1,303 1170.1,302.9 1180.1,303.2 1191.1,303.9 1202.1,305 1213.1,306.5 1230.1,309.6 1248.1,313.8 1266.1,318.9 1284.1,324.8 1300.1,330.8 1317.1,337.6 1374.1,362.6 1401.1,373.7 1416.1,379.4 1431.1,384.6 1445.1,389.1 1459.1,393.2 1478.1,398.1 1498.1,402.6 1520.1,406.9 1544.1,411 1570.1,415 1581.1,416.4 1596.1,417.8 1624.7,419.9 1624.7,475.9 1600.1,470.5 1584.1,467.3 1536.1,459.7 1507.1,454.4 1482.1,449 1459.1,443.2 1446.1,439.4 1432.1,435.1 1403.1,425 1376.1,414.6 1321.1,392.2 1305.1,386.2 1290.1,381 1274.1,376.1 1258.1,371.9 1242.1,368.5 1226.1,365.9 1214.1,364.5 1202.1,363.5 1190.1,362.9 1178.1,362.8 1166.1,363 1155.1,363.7 1143.1,364.9 1132.1,366.4 1120.1,368.5 1109.1,370.8 1097.1,373.9 1086.1,377.1 1074.1,381.1 1063.1,385.2 1052.1,389.7 1041.1,394.7Z" fill="#d62728"/></g>
<g fill="none" stroke-width="1.7" stroke-dasharray="5.8 4.7"><path d="M1041.1,362.7 1052.1,357.9 1063.1,353.4 1074.1,349.5 1085.1,345.9 1096.1,342.8 1107.1,340.2 1118.1,337.9 1129.1,336.1 1140.1,334.7 1151.1,333.7 1162.1,333.1 1174.1,332.9 1185.1,333.1 1196.1,333.7 1207.1,334.7 1219.1,336.2 1236.1,339.1 1253.1,342.9 1270.1,347.5 1287.1,353 1302.1,358.3 1319.1,365 1334.1,371.2 1375.1,388.6 1402.1,399.4 1417.1,404.9 1431.1,409.7 1445.1,414.1 1459.1,418.2 1474.1,422.1 1489.1,425.6 1505.1,429 1523.1,432.4 1558.1,438.2 1624.7,447.9" stroke="#d62728"/></g>
<g fill-opacity="0.09" stroke="none"><path d="M1041.1,360.2 1055.1,369.4 1069.1,377.5 1083.1,384.4 1098.1,390.7 1113.1,396 1129.1,400.5 1146.1,404.2 1163.1,406.9 1177.1,408.4 1193.1,409.8 1266.1,413.9 1302.1,416.9 1348.1,420.4 1366.1,422.4 1411.1,428.8 1439.1,432.4 1459.1,434.6 1478.1,436.1 1510.1,437.5 1550.1,438.2 1586.1,437.8 1624.7,436.4 1624.7,502.4 1572.1,499.2 1526.1,495.7 1496.1,492.8 1445.1,487.1 1413.1,483 1367.1,476.5 1353.1,474.2 1314.1,467.1 1302.1,465.3 1292.1,464.1 1262.1,461.6 1210.1,458.9 1190.1,457.6 1170.1,455.7 1149.1,453 1133.1,450.3 1118.1,447.2 1104.1,443.5 1091.1,439.5 1078.1,434.7 1065.1,429.1 1053.1,423 1041.1,416.2Z" fill="#2ca02c"/></g>
<g fill="none" stroke-width="1.7" stroke-dasharray="5.8 4.7"><path d="M1041.1,388.2 1054.1,396.2 1067.1,403.2 1081.1,409.7 1095.1,415.2 1110.1,420.1 1125.1,424.1 1141.1,427.5 1158.1,430.2 1174.1,432.1 1192.1,433.7 1211.1,434.9 1263.1,437.7 1279.1,438.9 1296.1,440.5 1315.1,442.6 1336.1,445.3 1406.1,455.1 1432.1,458.5 1457.1,461.4 1483.1,463.9 1515.1,466.2 1549.1,467.9 1585.1,468.9 1624.7,469.4" stroke="#2ca02c"/></g>
<g fill-opacity="0.09" stroke="none"><path d="M1041.1,334.1 1052.1,328.4 1064.1,322.7 1075.1,318 1087.1,313.5 1098.1,309.8 1110.1,306.3 1122.1,303.4 1134.1,301.1 1145.1,299.4 1157.1,298.1 1169.1,297.3 1181.1,297.1 1193.1,297.4 1205.1,298.2 1217.1,299.6 1229.1,301.5 1246.1,305.1 1263.1,309.6 1280.1,315.2 1298.1,322 1312.1,328 1326.1,334.6 1374.1,359.4 1401.1,372.3 1419.1,380.2 1437.1,387.6 1456.1,395 1473.1,401.2 1490.1,406.9 1509.1,412.9 1532.1,419.6 1548.1,423.9 1565.1,428 1583.1,431.9 1603.1,435.8 1624.7,439.6 1624.7,529.5 1565.1,506.1 1506.1,484.2 1472.1,471.3 1442.1,459.6 1422.1,451.4 1404.1,443.6 1386.1,435.3 1369.1,426.9 1327.1,405.1 1312.1,398 1297.1,391.6 1283.1,386.2 1269.1,381.6 1255.1,377.6 1241.1,374.4 1228.1,372 1215.1,370.3 1202.1,369.2 1190.1,368.8 1177.1,368.9 1165.1,369.6 1152.1,371 1140.1,372.8 1127.1,375.4 1115.1,378.5 1102.1,382.4 1090.1,386.7 1077.1,391.9 1065.1,397.4 1053.1,403.4 1041.1,410.1Z" fill="#00008b"/></g>
<g fill="none" stroke-width="1.7" stroke-dasharray="5.8 4.7"><path d="M1041.1,372.1 1053.1,365.7 1065.1,359.8 1077.1,354.6 1089.1,349.9 1101.1,345.8 1113.1,342.3 1125.1,339.3 1137.1,336.9 1149.1,335.1 1161.1,333.8 1173.1,333.1 1186.1,332.9 1198.1,333.3 1210.1,334.3 1222.1,335.7 1235.1,337.9 1251.1,341.5 1267.1,345.9 1283.1,351.2 1300.1,357.8 1313.1,363.5 1327.1,370.1 1339.1,376.2 1372.1,393.4 1384.1,399.3 1397.1,405.4 1412.1,412.1 1428.1,418.9 1445.1,425.8 1463.1,432.7 1480.1,439 1498.1,445.3 1535.1,457.7 1576.1,470.4 1624.7,484.6" stroke="#00008b"/></g>
<g fill-opacity="0.09" stroke="none"><path d="M1041.1,414.8 1055.1,370.1 1065.1,339.1 1074.1,312.2 1083.1,286.7 1092.1,262.5 1101.1,239.8 1110.1,218.7 1118.1,201.4 1127.1,183.6 1135.1,169.4 1143.1,156.7 1152.1,144.1 1160.1,134.5 1164.1,130.3 1169.1,125.4 1173.1,121.9 1178.1,118 1182.1,115.3 1187.1,112.3 1195.1,108.6 1199.1,107.3 1204.1,106 1208.1,105.3 1213.1,104.8 1217.1,104.7 1222.1,105 1228.1,105.9 1235.1,107.6 1263.1,116.9 1274.1,120.1 1285.1,123 1306.1,127.6 1328.1,131.4 1340.1,133 1353.1,134.4 1366.1,135.5 1380.1,136.3 1409.1,137.1 1440.1,136.9 1471.1,135.8 1497.1,134 1521.1,131.4 1543.1,127.9 1564.1,123.4 1575.1,120.5 1585.1,117.6 1595.1,114.3 1605.1,110.7 1615.1,106.7 1624.7,102.5 1624.7,200.4 1612.1,198.8 1598.1,197.8 1584.1,197.4 1569.1,197.7 1555.1,198.4 1540.1,199.5 1485.1,204.9 1464.1,206.6 1441.1,207.7 1421.1,207.5 1404.1,206.3 1386.1,204.2 1371.1,201.9 1335.1,195.8 1300.1,190.9 1292.1,189.3 1285.1,187.6 1262.1,180.7 1254.1,178.5 1247.1,177 1240.1,175.9 1235.1,175.5 1230.1,175.5 1225.1,175.9 1220.1,176.7 1215.1,177.9 1210.1,179.5 1205.1,181.5 1200.1,183.8 1195.1,186.5 1189.1,190.3 1184.1,193.7 1178.1,198.4 1172.1,203.5 1166.1,209.1 1160.1,215.2 1155.1,220.7 1150.1,226.6 1145.1,233 1136.1,245.9 1127.1,260.8 1119.1,275.8 1111.1,292.7 1104.1,309.2 1096.1,329.7 1087.1,354.7 1078.1,381.4 1069.1,409.2 1041.1,499.7Z" fill="#7f00ff"/></g>
<g fill="none" stroke-width="1.7" stroke-dasharray="5.8 4.7"><path d="M1041.1,453.6 1050.1,421.5 1059.1,391.3 1068.1,363.1 1077.1,336.8 1086.1,312.3 1095.1,289.6 1104.1,268.6 1114.1,247.3 1123.1,229.9 1128.1,220.9 1133.1,212.5 1138.1,204.5 1143.1,197.1 1148.1,190.1 1153.1,183.6 1157.1,178.7 1162.1,173.1 1167.1,167.9 1172.1,163.3 1177.1,159 1182.1,155.3 1187.1,152 1192.1,149.2 1197.1,146.8 1202.1,144.9 1207.1,143.3 1213.1,142 1218.1,141.2 1224.1,140.8 1229.1,140.8 1235.1,141.2 1244.1,142.4 1253.1,144.4 1262.1,146.9 1282.1,153.1 1293.1,155.9 1305.1,158.3 1334.1,163 1363.1,167.2 1388.1,169.9 1400.1,170.9 1411.1,171.5 1422.1,171.9 1433.1,172.1 1451.1,171.8 1470.1,171 1490.1,169.5 1511.1,167.4 1532.1,164.8 1556.1,161.5 1624.7,150.6" stroke="#7f00ff"/></g>
<g fill-opacity="0.09" stroke="none"><path d="M1041.1,286.7 1067.1,264.6 1086.1,249.6 1095.1,243 1103.1,237.6 1111.1,232.5 1119.1,227.9 1127.1,223.8 1134.1,220.6 1142.1,217.6 1149.1,215.5 1156.1,213.9 1163.1,212.9 1170.1,212.4 1177.1,212.6 1186.1,213.7 1196.1,215.9 1206.1,218.9 1217.1,223.1 1226.1,227.1 1235.1,231.5 1271.1,250.1 1289.1,258.9 1311.1,268.7 1334.1,278 1353.1,284.9 1373.1,291.6 1394.1,297.9 1415.1,303.6 1445.1,310.9 1475.1,317.2 1503.1,322.1 1529.1,325.6 1554.1,328 1578.1,329.3 1590.1,329.4 1602.1,329.3 1624.7,328.3 1624.7,410.5 1600.1,403.3 1573.1,396.1 1547.1,389.7 1483.1,374.4 1450.1,366 1414.1,355.9 1358.1,339.1 1333.1,331 1322.1,327 1311.1,322.6 1287.1,312.1 1247.1,293.4 1238.1,289.5 1230.1,286.4 1219.1,282.8 1209.1,280.2 1198.1,278.1 1188.1,276.9 1177.1,276.4 1167.1,276.6 1156.1,277.7 1146.1,279.5 1136.1,282.1 1126.1,285.5 1116.1,289.9 1107.1,294.7 1098.1,300.3 1090.1,306.1 1081.1,313.5 1073.1,321.1 1065.1,329.5 1057.1,338.9 1049.1,349.4 1041.1,361Z" fill="#a52a2a"/></g>
<g fill="none" stroke-width="1.7" stroke-dasharray="5.8 4.7"><path d="M1041.1,323.8 1049.1,314.6 1058.1,304.9 1067.1,296 1076.1,287.7 1085.1,280.2 1094.1,273.4 1103.1,267.3 1112.1,261.9 1121.1,257.2 1130.1,253.2 1139.1,249.9 1147.1,247.7 1156.1,245.8 1164.1,244.8 1172.1,244.4 1181.1,244.7 1190.1,245.8 1200.1,247.7 1210.1,250.4 1220.1,253.8 1230.1,257.7 1241.1,262.6 1275.1,279.3 1292.1,287.4 1307.1,294 1321.1,299.7 1338.1,306.1 1357.1,312.6 1382.1,320.4 1408.1,328 1433.1,334.7 1458.1,340.9 1484.1,346.8 1510.1,352 1537.1,356.9 1565.1,361.4 1594.1,365.6 1624.7,369.4" stroke="#a52a2a"/></g>
<g fill-opacity="0.09" stroke="none"><path d="M1041.1,394.1 1051.1,389.7 1061.1,385.7 1072.1,381.8 1083.1,378.4 1095.1,375.1 1107.1,372.3 1120.1,369.7 1133.1,367.5 1151.1,364.8 1174.1,361.8 1189.1,360.2 1203.1,359.1 1217.1,358.4 1230.1,358.3 1242.1,358.7 1254.1,359.7 1268.1,361.6 1281.1,364.2 1294.1,367.6 1308.1,372.1 1319.1,376.2 1330.1,380.9 1341.1,386.1 1374.1,402.4 1387.1,408.2 1400.1,413.6 1416.1,419.7 1432.1,425.2 1449.1,430.5 1466.1,435.1 1486.1,439.8 1507.1,444 1529.1,447.6 1552.1,450.7 1572.1,452.8 1585.1,453.7 1601.1,454.2 1624.7,454.1 1624.7,518.1 1584.1,509.2 1537.1,500.9 1506.1,494.8 1477.1,488 1449.1,480.5 1435.1,476.2 1421.1,471.5 1407.1,466.4 1394.1,461.2 1372.1,451.4 1332.1,431.8 1321.1,427.1 1310.1,422.8 1296.1,418.2 1282.1,414.4 1269.1,411.8 1255.1,409.8 1243.1,408.8 1230.1,408.3 1216.1,408.4 1202.1,409.1 1185.1,410.6 1167.1,412.7 1152.1,414.9 1137.1,417.7 1124.1,420.6 1111.1,424.1 1099.1,427.8 1087.1,432.1 1075.1,436.9 1064.1,441.9 1052.1,448 1041.1,454.1Z" fill="#dbdb8d"/></g>
<g fill="none" stroke-width="1.7" stroke-dasharray="5.8 4.7"><path d="M1041.1,424.1 1051.1,419.1 1062.1,414.1 1073.1,409.6 1085.1,405.3 1097.1,401.6 1109.1,398.3 1122.1,395.2 1135.1,392.6 1151.1,389.9 1168.1,387.6 1186.1,385.5 1202.1,384.1 1216.1,383.4 1229.1,383.3 1242.1,383.7 1254.1,384.7 1268.1,386.6 1281.1,389.2 1295.1,392.9 1309.1,397.4 1320.1,401.6 1331.1,406.4 1342.1,411.6 1374.1,427.4 1386.1,432.8 1398.1,437.8 1413.1,443.6 1428.1,448.9 1443.1,453.7 1459.1,458.3 1476.1,462.7 1493.1,466.6 1512.1,470.5 1531.1,473.8 1551.1,477 1572.1,479.9 1596.1,482.9 1624.7,486.1" stroke="#dbdb8d"/></g>
<path d="M1011.6,80.5 V563.7 H1653" fill="none" stroke="#1f1f1f" stroke-width="1.85"/>
<path d="M1164.9,563.7 v2.8" stroke="#333" stroke-width="1.7"/>
<text x="1165.5" y="584.6" font-size="20.8" text-anchor="middle" fill="#000">10</text>
<path d="M1341.6,563.7 v2.8" stroke="#333" stroke-width="1.7"/>
<text x="1342.2" y="584.6" font-size="20.8" text-anchor="middle" fill="#000">20</text>
<path d="M1518.6,563.7 v2.8" stroke="#333" stroke-width="1.7"/>
<text x="1519.2" y="584.6" font-size="20.8" text-anchor="middle" fill="#000">30</text>
<path d="M1011.6,192.5 h-2.8" stroke="#333" stroke-width="1.9"/>
<text x="997" y="197.5" font-size="15.6" text-anchor="middle" fill="#000">−2</text>
<path d="M1011.6,308.4 h-2.8" stroke="#333" stroke-width="1.9"/>
<text x="997" y="313.4" font-size="15.6" text-anchor="middle" fill="#000">−4</text>
<path d="M1011.6,424.2 h-2.8" stroke="#333" stroke-width="1.9"/>
<text x="997" y="429.2" font-size="15.6" text-anchor="middle" fill="#000">−6</text>
<path d="M1011.6,540.1 h-2.8" stroke="#333" stroke-width="1.9"/>
<text x="997" y="545.1" font-size="15.6" text-anchor="middle" fill="#000">−8</text>
<text x="1358.9" y="617.2" font-size="29.3" text-anchor="middle">Age</text>
<text transform="translate(974,320) rotate(-90)" font-size="22.2" text-anchor="middle">Log2−Transformed Relative Level</text>
<text x="1664.7" y="246.7" font-size="14.1">Conjugates</text>
<rect x="1668.2" y="254.2" width="15.3" height="15" fill="#0000ff" fill-opacity="0.09"/>
<path d="M1669.6,261.7 h12.3" stroke="#0000ff" stroke-width="1.6" stroke-dasharray="5.8 5" fill="none"/>
<text x="1688.7" y="264.5" font-size="14.8">Ala</text>
<rect x="1668.2" y="269.2" width="15.3" height="15" fill="#17becf" fill-opacity="0.09"/>
<path d="M1669.6,276.7 h12.3" stroke="#17becf" stroke-width="1.6" stroke-dasharray="5.8 5" fill="none"/>
<text x="1688.7" y="279.5" font-size="14.8">Gln</text>
<rect x="1668.2" y="284.1" width="15.3" height="15" fill="#30608a" fill-opacity="0.09"/>
<path d="M1669.6,291.6 h12.3" stroke="#30608a" stroke-width="1.6" stroke-dasharray="5.8 5" fill="none"/>
<text x="1688.7" y="294.4" font-size="14.8">Glu</text>
<rect x="1668.2" y="299.1" width="15.3" height="15" fill="#ff6347" fill-opacity="0.09"/>
<path d="M1669.6,306.6 h12.3" stroke="#ff6347" stroke-width="1.6" stroke-dasharray="5.8 5" fill="none"/>
<text x="1688.7" y="309.4" font-size="14.8">Ile</text>
<rect x="1668.2" y="314.1" width="15.3" height="15" fill="#d62728" fill-opacity="0.09"/>
<path d="M1669.6,321.6 h12.3" stroke="#d62728" stroke-width="1.6" stroke-dasharray="5.8 5" fill="none"/>
<text x="1688.7" y="324.4" font-size="14.8">Leu</text>
<rect x="1668.2" y="329.1" width="15.3" height="15" fill="#2ca02c" fill-opacity="0.09"/>
<path d="M1669.6,336.5 h12.3" stroke="#2ca02c" stroke-width="1.6" stroke-dasharray="5.8 5" fill="none"/>
<text x="1688.7" y="339.4" font-size="14.8">Lys</text>
<rect x="1668.2" y="344" width="15.3" height="15" fill="#00008b" fill-opacity="0.09"/>
<path d="M1669.6,351.5 h12.3" stroke="#00008b" stroke-width="1.6" stroke-dasharray="5.8 5" fill="none"/>
<text x="1688.7" y="354.3" font-size="14.8">Phe</text>
<rect x="1668.2" y="359" width="15.3" height="15" fill="#7f00ff" fill-opacity="0.09"/>
<path d="M1669.6,366.5 h12.3" stroke="#7f00ff" stroke-width="1.6" stroke-dasharray="5.8 5" fill="none"/>
<text x="1688.7" y="369.3" font-size="14.8">Pro</text>
<rect x="1668.2" y="374" width="15.3" height="15" fill="#a52a2a" fill-opacity="0.09"/>
<path d="M1669.6,381.4 h12.3" stroke="#a52a2a" stroke-width="1.6" stroke-dasharray="5.8 5" fill="none"/>
<text x="1688.7" y="384.3" font-size="14.8">Thr</text>
<rect x="1668.2" y="388.9" width="15.3" height="15" fill="#dbdb8d" fill-opacity="0.09"/>
<path d="M1669.6,396.4 h12.3" stroke="#dbdb8d" stroke-width="1.6" stroke-dasharray="5.8 5" fill="none"/>
<text x="1688.7" y="399.2" font-size="14.8">Val</text>
<!-- panel c -->
<g fill-opacity="0.09" stroke="none"><path d="M213.6,1029.6 225.6,1034.8 235.6,1038.5 244.6,1041.2 252.6,1042.8 260.6,1043.5 274.6,1043.6 287.6,1043 300.6,1041.9 312.6,1040.4 324.6,1038.5 337.6,1036 351.6,1032.9 380.6,1025.5 445.6,1006.7 472.6,999.5 488.6,995.8 505.6,992.2 522.6,989 539.6,986.2 558.6,983.6 577.6,981.3 596.6,979.5 618.6,977.8 642.6,976.2 667.6,975 734.6,972.5 752.6,971.4 781.2,969 781.2,1009 752.6,1005.6 732.6,1003.8 713.6,1002.9 684.6,1002.4 656.6,1002.5 629.6,1003.3 604.6,1004.8 577.6,1007.3 554.6,1010.1 531.6,1013.5 509.6,1017.4 488.6,1021.8 471.6,1025.8 454.6,1030.2 395.6,1047.2 375.6,1052.7 352.6,1058.2 331.6,1062.2 310.6,1065.3 290.6,1067.1 274.6,1067.6 250.6,1067.5 224.6,1069.1 213.6,1069.4Z" fill="#0000ff"/></g>
<g fill="none" stroke-width="1.7" stroke-dasharray="5.8 4.7"><path d="M213.6,1049.5 225.6,1051.9 238.6,1053.8 251.6,1055 264.6,1055.6 277.6,1055.6 291.6,1054.9 305.6,1053.6 319.6,1051.7 331.6,1049.7 343.6,1047.4 355.6,1044.7 368.6,1041.6 392.6,1035.1 454.6,1017.2 472.6,1012.5 489.6,1008.5 510.6,1004.2 532.6,1000.3 554.6,997.1 577.6,994.3 598.6,992.3 620.6,990.7 643.6,989.5 667.6,988.6 692.6,988.2 718.6,988.1 747.6,988.4 781.2,989" stroke="#0000ff"/></g>
<g fill-opacity="0.09" stroke="none"><path d="M213.6,1062.2 228.6,1064.5 241.6,1065.9 253.6,1066.4 264.6,1066.1 283.6,1064.8 303.6,1062.6 324.6,1059.6 346.6,1055.6 377.6,1049.1 413.6,1040.4 446.6,1031.8 559.6,1001.3 593.6,992.6 631.6,983.4 661.6,976.4 688.6,970.7 781.2,952.6 781.2,994.6 764.6,994.4 750.6,994.5 737.6,995 725.6,996 709.6,997.9 690.6,1000.6 671.6,1003.8 652.6,1007.3 634.6,1011 615.6,1015.3 574.6,1025.4 527.6,1038.1 416.6,1069.4 385.6,1077.5 357.6,1084.1 326.6,1090.6 296.6,1095.7 277.6,1098.4 251.6,1101.2 224.6,1104.8 213.6,1106.1Z" fill="#ff0000"/></g>
<g fill="none" stroke-width="1.7" stroke-dasharray="5.8 4.7"><path d="M213.6,1084.2 227.6,1084.4 242.6,1084.2 257.6,1083.5 273.6,1082.2 289.6,1080.5 305.6,1078.3 322.6,1075.6 339.6,1072.5 354.6,1069.4 370.6,1065.9 404.6,1057.6 439.6,1048.3 521.6,1025.6 560.6,1015.1 600.6,1004.9 636.6,996.4 656.6,992.1 675.6,988.2 694.6,984.7 712.6,981.7 730.6,979.1 747.6,976.9 764.6,975.1 781.2,973.6" stroke="#ff0000"/></g>
<g fill-opacity="0.09" stroke="none"><path d="M213.6,969.4 240.6,972.4 257.6,973.4 298.6,973.3 342.6,972 383.6,970 429.6,967.1 482.6,963.2 586.6,955 636.6,951.7 680.6,949.7 758.6,947.4 781.2,947 781.2,977 762.6,974.4 745.6,972.3 730.6,970.9 715.6,969.8 702.6,969.3 683.6,969 663.6,969.1 643.6,969.4 608.6,970.7 569.6,972.8 532.6,975.4 432.6,982.9 369.6,986.8 339.6,988.1 310.6,989 285.6,989.4 249.6,989.6 213.6,991.3Z" fill="#cd5b45"/></g>
<g fill="none" stroke-width="1.7" stroke-dasharray="5.8 4.7"><path d="M213.6,980.3 246.6,981.3 281.6,981.5 318.6,980.8 357.6,979.4 392.6,977.5 431.6,975 551.6,965.9 587.6,963.4 623.6,961.3 655.6,959.9 688.6,959.3 720.6,959.4 751.6,960.3 781.2,962" stroke="#cd5b45"/></g>
<g fill-opacity="0.09" stroke="none"><path d="M213.6,1014.9 232.6,1016.9 248.6,1018 263.6,1018.2 277.6,1017.5 299.6,1015.1 322.6,1011.7 345.6,1007.4 368.6,1002.3 388.6,997.2 407.6,991.8 426.6,985.8 445.6,979.2 464.6,972 485.6,963.6 505.6,955.1 543.6,938.5 565.6,929.6 580.6,923.9 595.6,918.7 613.6,912.7 629.6,907.8 642.6,904.1 654.6,900.9 665.6,898.4 677.6,896 692.6,893.3 708.6,891 754.6,885.4 763.6,883.6 781.2,879.1 781.2,927.1 766.6,925.9 756.6,925.6 749.6,926.1 733.6,928.1 713.6,931.2 690.6,935.3 652.6,943 628.6,948.3 613.6,951.9 599.6,955.8 586.6,959.7 571.6,964.7 547.6,973.5 491.6,996.3 456.6,1009.6 438.6,1015.9 420.6,1021.8 402.6,1027.3 385.6,1032 367.6,1036.5 350.6,1040.4 332.6,1043.9 315.6,1046.8 292.6,1049.9 267.6,1052.6 229.6,1057.2 213.6,1058.8Z" fill="#b8b81c"/></g>
<g fill="none" stroke-width="1.7" stroke-dasharray="5.8 4.7"><path d="M213.6,1036.9 231.6,1036.9 250.6,1036.4 269.6,1035.2 288.6,1033.4 307.6,1031 326.6,1028 345.6,1024.4 365.6,1020 384.6,1015.3 404.6,1009.7 423.6,1003.8 443.6,997 463.6,989.7 484.6,981.5 504.6,973.3 542.6,957.2 562.6,949.3 576.6,944.2 590.6,939.4 604.6,935 618.6,930.9 637.6,925.9 656.6,921.3 676.6,917.1 696.6,913.5 716.6,910.3 737.6,907.5 759.6,905 781.2,903.1" stroke="#b8b81c"/></g>
<g fill-opacity="0.09" stroke="none"><path d="M213.6,1113.6 230.6,1119.6 244.6,1123.8 257.6,1126.8 269.6,1128.7 281.6,1129.6 296.6,1129.6 310.6,1128.6 324.6,1126.7 334.6,1124.7 345.6,1122 356.6,1118.9 368.6,1115 387.6,1107.9 420.6,1094.5 479.6,1071.3 506.6,1061.2 534.6,1051.3 563.6,1041.6 581.6,1036.1 598.6,1031.6 613.6,1028.3 627.6,1025.8 642.6,1023.7 659.6,1021.9 684.6,1020.3 742.6,1018.1 781.2,1015.8 781.2,1063.8 748.6,1060.8 727.6,1059.3 704.6,1058.5 681.6,1058.4 658.6,1059.2 636.6,1060.8 614.6,1063.2 594.6,1066.4 578.6,1069.8 562.6,1074.1 547.6,1078.9 531.6,1084.9 514.6,1092.1 495.6,1100.8 464.6,1115.7 424.6,1135.6 405.6,1144.5 389.6,1151.1 373.6,1157.2 359.6,1161.9 346.6,1165.8 333.6,1168.9 320.6,1171.3 307.6,1172.9 294.6,1173.6 281.6,1173.6 247.6,1172.3 229.6,1171.1 213.6,1169.5Z" fill="#191970"/></g>
<g fill="none" stroke-width="1.7" stroke-dasharray="5.8 4.7"><path d="M213.6,1141.5 229.6,1145.2 244.6,1147.9 259.6,1150 273.6,1151.2 287.6,1151.7 300.6,1151.4 313.6,1150.3 325.6,1148.5 337.6,1146 350.6,1142.7 363.6,1138.6 377.6,1133.7 391.6,1128.3 407.6,1121.7 484.6,1087.7 502.6,1080.1 519.6,1073.2 538.6,1066.1 555.6,1060.2 572.6,1055.1 588.6,1050.9 606.6,1047.1 625.6,1044 644.6,1041.8 665.6,1040.2 686.6,1039.3 709.6,1038.9 733.6,1039.1 781.2,1039.8" stroke="#191970"/></g>
<g fill-opacity="0.09" stroke="none"><path d="M213.6,1075.4 227.6,1079.9 240.6,1083.3 253.6,1085.9 266.6,1087.5 277.6,1088.1 292.6,1087.9 308.6,1087 324.6,1085.4 339.6,1083.4 354.6,1080.9 370.6,1077.8 387.6,1074.2 417.6,1067 487.6,1048.9 507.6,1044.2 526.6,1040 545.6,1036.4 564.6,1033.3 582.6,1031 598.6,1029.5 615.6,1028.7 634.6,1028.7 711.6,1031.6 743.6,1033.4 781.2,1037 781.2,1085 757.6,1079.5 730.6,1074 710.6,1070.5 692.6,1067.9 677.6,1066.5 662.6,1065.8 646.6,1065.9 628.6,1066.8 602.6,1069 567.6,1072.7 540.6,1076.3 512.6,1080.9 487.6,1085.5 462.6,1090.8 389.6,1107.7 367.6,1112.6 343.6,1117.2 322.6,1120.5 308.6,1122.2 294.6,1123.4 283.6,1124 262.6,1124.7 247.6,1124.9 235.6,1124.8 224.6,1124.3 213.6,1123.3Z" fill="#17becf"/></g>
<g fill="none" stroke-width="1.7" stroke-dasharray="5.8 4.7"><path d="M213.6,1099.3 225.6,1101.8 238.6,1103.8 251.6,1105.2 265.6,1106 279.6,1106.1 293.6,1105.7 308.6,1104.6 324.6,1102.8 336.6,1101.1 349.6,1098.9 363.6,1096.3 377.6,1093.4 404.6,1087.2 475.6,1069.9 498.6,1064.8 519.6,1060.6 543.6,1056.3 565.6,1053 586.6,1050.5 607.6,1048.8 627.6,1047.7 646.6,1047.5 666.6,1047.9 687.6,1049 709.6,1050.9 731.6,1053.4 755.6,1056.8 781.2,1061" stroke="#17becf"/></g>
<g fill-opacity="0.09" stroke="none"><path d="M213.6,1008.6 227.6,1010.9 240.6,1012.6 253.6,1013.7 265.6,1014.3 277.6,1014.3 291.6,1013.7 307.6,1012.7 324.6,1011.2 352.6,1008 384.6,1003.6 414.6,999 501.6,984.9 575.6,974.3 601.6,970.3 626.6,966 649.6,961.2 670.6,956.2 692.6,950.1 716.6,942.6 733.6,936.8 752.6,929.4 781.2,917.6 781.2,959.6 739.6,968.6 694.6,980.1 670.6,985.7 642.6,991.3 610.6,996.9 583.6,1001.1 503.6,1013 396.6,1031.3 351.6,1038.3 328.6,1041.3 305.6,1043.9 213.6,1052.5Z" fill="#30608a"/></g>
<g fill="none" stroke-width="1.7" stroke-dasharray="5.8 4.7"><path d="M213.6,1030.5 227.6,1031.1 241.6,1031.3 255.6,1031.2 270.6,1030.7 285.6,1029.9 301.6,1028.7 318.6,1027.1 335.6,1025.2 358.6,1022.3 383.6,1018.6 411.6,1014.1 501.6,999.1 579.6,987.7 603.6,984 625.6,980.3 645.6,976.4 663.6,972.6 681.6,968.2 700.6,963.1 721.6,957 781.2,938.6" stroke="#30608a"/></g>
<g fill-opacity="0.09" stroke="none"><path d="M213.6,959.3 228.6,963.4 238.6,965.8 247.6,967.5 256.6,968.6 272.6,969.3 289.6,969.4 306.6,968.9 323.6,967.9 345.6,965.8 368.6,962.9 392.6,959.1 468.6,946.3 492.6,942.8 517.6,939.8 548.6,936.7 582.6,933.9 690.6,926.9 713.6,925.2 744.6,922 781.2,917.1 781.2,943.1 708.6,945.9 620.6,950 575.6,952.7 537.6,955.8 509.6,958.7 483.6,962 454.6,966.5 396.6,976.5 373.6,980.2 348.6,983.5 325.6,985.7 307.6,986.8 289.6,987.4 273.6,987.3 251.6,986.6 223.6,987.2 213.6,987.1Z" fill="#1f77b4"/></g>
<g fill="none" stroke-width="1.7" stroke-dasharray="5.8 4.7"><path d="M213.6,973.2 226.6,975 240.6,976.5 253.6,977.5 267.6,978.1 281.6,978.4 295.6,978.3 309.6,977.7 324.6,976.8 345.6,974.8 367.6,972 390.6,968.5 447.6,958.7 472.6,954.6 499.6,950.9 527.6,947.7 554.6,945.2 584.6,942.9 618.6,940.8 719.6,935 751.6,932.7 781.2,930.1" stroke="#1f77b4"/></g>
<g fill-opacity="0.09" stroke="none"><path d="M213.6,1064.3 228.6,1067.5 239.6,1069.4 248.6,1070.3 257.6,1070.4 275.6,1069 294.6,1066.7 313.6,1063.8 334.6,1060 367.6,1052.8 405.6,1043.3 440.6,1033.9 554.6,1002 590.6,992.4 623.6,984.1 654.6,976.9 683.6,970.6 781.2,951.6 781.2,993.6 765.6,993.4 751.6,993.5 738.6,994 726.6,994.9 711.6,996.7 694.6,999.1 677.6,1001.8 659.6,1005.1 640.6,1008.9 620.6,1013.2 577.6,1023.5 531.6,1035.5 423.6,1064.8 394.6,1072.1 368.6,1078.1 341.6,1083.6 315.6,1088 300.6,1090.2 286.6,1091.9 250.6,1095.3 241.6,1096.7 213.6,1102Z" fill="#ff6347"/></g>
<g fill-opacity="0.09" stroke="none"><path d="M213.6,1074.5 230.6,1078.2 245.6,1080.3 259.6,1081.2 266.6,1081.2 273.6,1080.9 280.6,1080.3 290.6,1078.9 299.6,1077.4 308.6,1075.6 326.6,1071 343.6,1065.5 352.6,1062.1 360.6,1058.8 376.6,1051.2 392.6,1042.5 429.6,1020.5 450.6,1008.9 465.6,1001.1 480.6,993.6 511.6,979.2 529.6,971.4 549.6,963.1 593.6,945.9 653.6,923.7 733.6,895 742.6,891.1 758.6,883.5 769.6,877.8 781.2,871.3 781.2,937.3 772.6,936.9 763.6,936.9 754.6,937.3 745.6,938.1 738.6,938.9 732.6,939.8 716.6,943.6 684.6,952.1 650.6,962.4 615.6,974 576.6,988 550.6,997.9 526.6,1007.6 503.6,1017.4 482.6,1027 460.6,1037.8 439.6,1049 422.6,1058.6 390.6,1077.6 374.6,1086.3 364.6,1091.2 353.6,1096 342.6,1100.3 331.6,1104.2 319.6,1107.8 306.6,1111.2 294.6,1113.8 282.6,1116 259.6,1119.2 242.6,1121.1 227.6,1122.1 213.6,1122.4Z" fill="#d62728"/></g>
<g fill="none" stroke-width="1.7" stroke-dasharray="5.8 4.7"><path d="M213.6,1098.4 228.6,1099.9 243.6,1100.5 258.6,1100.2 266.6,1099.7 274.6,1099 289.6,1096.9 305.6,1093.8 321.6,1089.8 337.6,1084.9 347.6,1081.2 357.6,1077.2 367.6,1072.7 377.6,1067.8 392.6,1059.5 420.6,1042.7 435.6,1034.1 453.6,1024.4 471.6,1015.2 487.6,1007.5 504.6,999.7 522.6,991.8 540.6,984.3 568.6,973.3 601.6,960.9 633.6,949.4 665.6,938.5 695.6,928.8 724.6,920 753.6,911.7 781.2,904.3" stroke="#d62728"/></g>
<g fill-opacity="0.09" stroke="none"><path d="M213.6,1083.8 230.6,1090.9 246.6,1096.3 254.6,1098.6 261.6,1100.2 268.6,1101.6 275.6,1102.6 283.6,1103.4 291.6,1103.8 299.6,1103.9 307.6,1103.7 315.6,1103.1 322.6,1102.3 330.6,1101.1 338.6,1099.6 355.6,1095.5 374.6,1089.7 392.6,1083.5 443.6,1064.9 460.6,1059.3 475.6,1054.7 490.6,1050.7 507.6,1046.4 567.6,1032.8 589.6,1027.5 612.6,1021.5 637.6,1014.2 669.6,1004.2 725.6,985.9 781.2,966 781.2,1010 765.6,1012.3 751.6,1014.8 738.6,1017.3 726.6,1020.1 701.6,1026.7 629.6,1046.9 597.6,1055.5 572.6,1061.7 514.6,1075.2 486.6,1082.5 467.6,1088.1 448.6,1094.5 429.6,1101.5 388.6,1117.1 369.6,1123.9 350.6,1129.8 341.6,1132.2 332.6,1134.3 319.6,1136.7 307.6,1138.2 294.6,1139.1 281.6,1139.1 262.6,1138.2 245.6,1136.8 229.6,1134.6 213.6,1131.7Z" fill="#2ca02c"/></g>
<g fill="none" stroke-width="1.7" stroke-dasharray="5.8 4.7"><path d="M213.6,1107.8 229.6,1112.6 237.6,1114.6 245.6,1116.4 253.6,1117.9 261.6,1119.2 269.6,1120.2 276.6,1120.8 284.6,1121.3 291.6,1121.5 299.6,1121.4 306.6,1121 313.6,1120.4 320.6,1119.6 327.6,1118.5 335.6,1116.9 344.6,1114.9 353.6,1112.5 362.6,1109.8 372.6,1106.6 391.6,1099.9 427.6,1086.4 444.6,1080.3 461.6,1074.5 477.6,1069.6 491.6,1065.7 506.6,1061.9 575.6,1046 591.6,1042 607.6,1037.9 644.6,1027.4 734.6,1000.5 759.6,993.5 781.2,988" stroke="#2ca02c"/></g>
<g fill-opacity="0.09" stroke="none"><path d="M213.6,1099.8 228.6,1103.4 242.6,1105.9 255.6,1107.5 267.6,1108.2 279.6,1108 292.6,1106.8 305.6,1104.8 317.6,1102.2 328.6,1099.1 339.6,1095.4 351.6,1090.8 363.6,1085.6 383.6,1075.9 418.6,1057.5 435.6,1048.9 454.6,1039.8 474.6,1031 492.6,1023.5 511.6,1016.3 530.6,1009.5 549.6,1003.3 572.6,996.5 595.6,990.3 621.6,984.1 647.6,978.6 667.6,974.8 688.6,971.1 734.6,964.3 781.2,956.7 781.2,1000.7 755.6,999.7 735.6,999.7 719.6,1000.5 693.6,1002.9 667.6,1006.1 641.6,1010.4 616.6,1015.4 591.6,1021.3 564.6,1028.8 537.6,1037.4 510.6,1047.1 484.6,1057.6 460.6,1068.2 437.6,1079.3 419.6,1088.6 382.6,1108.7 364.6,1117.8 354.6,1122.5 344.6,1126.8 335.6,1130.3 326.6,1133.5 315.6,1136.9 303.6,1139.9 292.6,1142.1 280.6,1143.9 262.6,1145.8 245.6,1147.1 229.6,1147.7 213.6,1147.7Z" fill="#8b0000"/></g>
<g fill="none" stroke-width="1.7" stroke-dasharray="5.8 4.7"><path d="M213.6,1123.7 227.6,1125.5 240.6,1126.5 253.6,1127 266.6,1126.8 278.6,1126.1 290.6,1124.7 302.6,1122.7 314.6,1120 325.6,1116.9 337.6,1112.8 349.6,1108.1 361.6,1102.9 371.6,1098.1 382.6,1092.6 419.6,1072.8 436.6,1064.1 456.6,1054.5 477.6,1045.1 497.6,1036.9 518.6,1028.9 538.6,1022 559.6,1015.3 585.6,1007.9 611.6,1001.5 638.6,995.7 665.6,990.8 693.6,986.6 721.6,983.3 750.6,980.6 781.2,978.7" stroke="#8b0000"/></g>
<g fill-opacity="0.09" stroke="none"><path d="M213.6,1004.8 228.6,1008.7 242.6,1011.5 255.6,1013.4 267.6,1014.4 279.6,1014.5 294.6,1013.7 309.6,1012.2 323.6,1010 341.6,1006.2 360.6,1001.1 381.6,994.5 429.6,977.9 451.6,970.7 479.6,962.7 509.6,955.2 540.6,948.6 574.6,942.3 599.6,938.1 685.6,924.6 724.6,918 736.6,915.6 749.6,912.6 781.2,904.3 781.2,948.3 746.6,950.5 729.6,951.9 665.6,959.1 637.6,962.6 612.6,966.1 587.6,970.1 563.6,974.3 538.6,979.1 515.6,984.2 493.6,989.6 471.6,995.6 454.6,1000.7 437.6,1006.2 386.6,1024.4 367.6,1030.9 348.6,1036.6 331.6,1040.9 321.6,1043 310.6,1045 299.6,1046.5 288.6,1047.8 241.6,1051.5 226.6,1052.3 213.6,1052.7Z" fill="#00008b"/></g>
<g fill="none" stroke-width="1.7" stroke-dasharray="5.8 4.7"><path d="M213.6,1028.8 227.6,1030.3 241.6,1031.4 255.6,1031.9 268.6,1031.9 281.6,1031.5 294.6,1030.4 307.6,1028.9 320.6,1026.9 331.6,1024.7 341.6,1022.4 352.6,1019.5 363.6,1016.2 385.6,1009 436.6,991 450.6,986.5 464.6,982.2 478.6,978.3 493.6,974.3 508.6,970.6 524.6,967 542.6,963.2 560.6,959.8 579.6,956.4 599.6,953.1 637.6,947.4 732.6,934 758.6,930 781.2,926.3" stroke="#00008b"/></g>
<g fill-opacity="0.09" stroke="none"><path d="M213.6,1049.5 222.6,1022 231.6,996 240.6,971.4 248.6,950.8 257.6,929.1 265.6,911 274.6,892.2 282.6,876.7 291.6,860.9 299.6,848.1 307.6,836.6 315.6,826.4 323.6,817.5 332.6,809 340.6,802.7 344.6,800.1 349.6,797.1 357.6,793.3 365.6,790.5 373.6,788.7 382.6,787.9 389.6,787.9 397.6,788.6 422.6,792.1 434.6,793.5 447.6,794.3 460.6,794.7 477.6,794.6 494.6,793.7 513.6,792.1 533.6,789.8 562.6,785.7 635.6,774.5 664.6,769.8 689.6,765.2 714.6,760.1 737.6,754.7 759.6,748.8 781.2,742.2 781.2,829.5 766.6,827.7 751.6,826.7 735.6,826.4 718.6,827 700.6,828.4 681.6,830.4 662.6,832.9 613.6,840 588.6,843 568.6,844.8 519.6,848.2 487.6,850.9 473.6,851.7 459.6,851.9 444.6,851.5 416.6,850.1 408.6,850.1 401.6,850.5 390.6,851.8 379.6,854.4 368.6,858.1 357.6,863 346.6,869.2 335.6,876.7 329.6,881.4 324.6,885.7 314.6,895.3 304.6,906.5 295.6,918.1 286.6,931.3 277.6,946.2 268.6,963.1 260.6,979.7 252.6,998.1 244.6,1018.3 236.6,1040.4 228.6,1064.4 220.6,1090.7 213.6,1115.4Z" fill="#7f00ff"/></g>
<g fill="none" stroke-width="1.7" stroke-dasharray="5.8 4.7"><path d="M213.6,1079.4 222.6,1051.3 230.6,1027.7 239.6,1002.7 247.6,981.9 256.6,960.1 264.6,942.2 273.6,923.7 281.6,908.8 289.6,895.3 298.6,881.7 307.6,869.7 316.6,859.2 325.6,850.1 330.6,845.7 335.6,841.6 344.6,835.2 349.6,832.1 354.6,829.4 359.6,827 364.6,824.9 369.6,823.1 374.6,821.6 379.6,820.4 384.6,819.5 389.6,818.9 395.6,818.4 404.6,818.4 413.6,819.1 422.6,820.2 445.6,823.5 457.6,824.6 463.6,824.8 470.6,824.7 484.6,823.7 520.6,819.1 570.6,813.2 610.6,808.2 781.2,785.6" stroke="#7f00ff"/></g>
<g fill-opacity="0.09" stroke="none"><path d="M213.6,1034.7 228.6,1039 239.6,1041.7 249.6,1043.5 258.6,1044.3 278.6,1044.6 299.6,1044 320.6,1042.7 341.6,1040.5 360.6,1038 380.6,1034.8 400.6,1031 420.6,1026.7 438.6,1022.4 456.6,1017.8 522.6,999.6 551.6,992 581.6,985.1 595.6,982.2 609.6,979.8 625.6,977.3 642.6,975.1 659.6,973.3 676.6,971.9 701.6,970.5 732.6,969.4 781.2,967.4 781.2,1007.4 761.6,1004.1 744.6,1001.8 729.6,1000.4 715.6,999.7 694.6,999.5 673.6,999.9 652.6,1001.1 631.6,1003.1 615.6,1005.1 599.6,1007.5 582.6,1010.6 564.6,1014.3 547.6,1018.2 528.6,1022.9 461.6,1040.7 433.6,1047.7 400.6,1055 384.6,1058 369.6,1060.6 353.6,1063 338.6,1064.9 323.6,1066.4 308.6,1067.5 295.6,1068.2 282.6,1068.5 249.6,1068.4 213.6,1070.5Z" fill="#c5b0d5"/></g>
<g fill="none" stroke-width="1.7" stroke-dasharray="5.8 4.7"><path d="M213.6,1052.6 230.6,1054.5 248.6,1055.9 266.6,1056.5 285.6,1056.5 304.6,1055.8 323.6,1054.4 342.6,1052.4 362.6,1049.7 379.6,1046.9 396.6,1043.8 413.6,1040.2 431.6,1036.1 461.6,1028.6 531.6,1009.6 550.6,1004.9 568.6,1000.7 585.6,997.1 602.6,994 618.6,991.5 635.6,989.3 652.6,987.6 669.6,986.3 687.6,985.4 705.6,984.9 723.6,984.9 742.6,985.3 761.6,986.1 781.2,987.4" stroke="#c5b0d5"/></g>
<g fill-opacity="0.09" stroke="none"><path d="M213.6,1117.4 227.6,1122.3 238.6,1125.7 248.6,1127.9 257.6,1129 272.6,1129.2 287.6,1128.4 302.6,1126.7 318.6,1123.8 328.6,1121.4 339.6,1118.2 350.6,1114.4 362.6,1109.7 375.6,1104.1 390.6,1097 407.6,1088.5 444.6,1069.3 454.6,1064.5 465.6,1059.6 500.6,1045.2 529.6,1032.7 546.6,1025.8 557.6,1021.7 568.6,1018 591.6,1011 609.6,1006.4 627.6,1002.7 646.6,999.9 665.6,998 679.6,997.1 694.6,996.6 707.6,996.6 735.6,997 781.2,996.1 781.2,1046.1 755.6,1041 737.6,1038.2 722.6,1036.9 700.6,1036.6 687.6,1036.8 675.6,1037.3 663.6,1038.1 652.6,1039.2 640.6,1040.7 629.6,1042.4 618.6,1044.5 607.6,1046.9 593.6,1050.6 580.6,1054.8 566.6,1060.2 552.6,1066.5 534.6,1075.7 506.6,1091.1 491.6,1099.7 455.6,1121 436.6,1131.4 417.6,1140.8 399.6,1149.1 383.6,1155.7 367.6,1161.6 353.6,1166 340.6,1169.5 327.6,1172.2 315.6,1174.1 304.6,1175.2 292.6,1175.7 278.6,1175.6 257.6,1175.1 248.6,1175.3 241.6,1176 233.6,1177.1 213.6,1181Z" fill="#a52a2a"/></g>
<g fill="none" stroke-width="1.7" stroke-dasharray="5.8 4.7"><path d="M213.6,1149.2 241.6,1151.2 259.6,1152.1 276.6,1152.3 291.6,1151.9 305.6,1150.6 319.6,1148.6 333.6,1145.5 347.6,1141.6 359.6,1137.6 372.6,1132.6 385.6,1127.2 400.6,1120.3 423.6,1109.1 466.6,1086.9 487.6,1076.3 528.6,1056 548.6,1046.7 563.6,1040.6 579.6,1034.8 595.6,1030 611.6,1026 629.6,1022.4 638.6,1021 648.6,1019.6 667.6,1017.8 687.6,1016.8 708.6,1016.6 730.6,1017.3 754.6,1018.7 781.2,1021.1" stroke="#a52a2a"/></g>
<g fill-opacity="0.09" stroke="none"><path d="M213.6,1103.6 229.6,1107 243.6,1109.2 257.6,1110.6 270.6,1111 283.6,1110.5 298.6,1108.8 313.6,1106.3 327.6,1103.1 337.6,1100.3 348.6,1096.8 359.6,1093 371.6,1088.3 388.6,1081.1 423.6,1065.2 442.6,1056.8 463.6,1048 485.6,1039.2 521.6,1025.8 558.6,1013.3 579.6,1006.7 601.6,1000.2 626.6,993.3 651.6,986.8 685.6,978.6 733.6,968.2 781.2,957 781.2,1001 760.6,1001.6 743.6,1002.5 728.6,1004 713.6,1006 688.6,1010.2 664.6,1014.8 640.6,1020.1 616.6,1026.1 588.6,1034 559.6,1043 530.6,1052.9 501.6,1063.7 474.6,1074.4 447.6,1085.9 425.6,1095.9 386.6,1114.2 370.6,1121.2 350.6,1129.2 332.6,1135.4 320.6,1138.8 308.6,1141.8 296.6,1144.2 283.6,1146.2 263.6,1148.6 245.6,1150.2 228.6,1151.2 213.6,1151.5Z" fill="#ee6fc4"/></g>
<g fill="none" stroke-width="1.7" stroke-dasharray="5.8 4.7"><path d="M213.6,1127.6 228.6,1129 242.6,1129.8 256.6,1129.9 270.6,1129.4 284.6,1128.2 297.6,1126.5 310.6,1124.1 323.6,1121.1 334.6,1118 345.6,1114.4 357.6,1110.1 369.6,1105.4 387.6,1097.6 424.6,1080.5 444.6,1071.6 467.6,1061.9 490.6,1052.6 510.6,1045 531.6,1037.4 552.6,1030.3 573.6,1023.5 598.6,1016.1 624.6,1008.9 650.6,1002.4 676.6,996.5 702.6,991.3 728.6,986.6 754.6,982.6 781.2,979" stroke="#ee6fc4"/></g>
<g fill-opacity="0.09" stroke="none"><path d="M213.6,1065.7 229.6,1069.1 240.6,1071 250.6,1072 259.6,1072.1 279.6,1070.6 298.6,1068.3 317.6,1064.9 335.6,1060.8 352.6,1055.9 368.6,1050.4 386.6,1043.5 434.6,1024.1 448.6,1018.9 463.6,1013.9 484.6,1007.6 507.6,1001.2 533.6,994.5 607.6,976.1 630.6,969.9 652.6,963.5 686.6,952.9 725.6,940 744.6,933 781.2,918.7 781.2,960.7 753.6,965.9 730.6,971.1 657.6,991.3 630.6,998.5 601.6,1005.7 527.6,1023.2 506.6,1028.5 487.6,1033.6 466.6,1039.7 447.6,1045.8 430.6,1052 393.6,1066.6 377.6,1072.5 360.6,1078.2 344.6,1082.6 326.6,1086.6 308.6,1089.6 296.6,1091.1 284.6,1092.4 257.6,1094.2 250.6,1094.9 239.6,1096.6 213.6,1101.5Z" fill="#dbdb8d"/></g>
<g fill="none" stroke-width="1.7" stroke-dasharray="5.8 4.7"><path d="M213.6,1083.6 232.6,1083.8 249.6,1083.5 265.6,1082.8 281.6,1081.5 296.6,1079.9 311.6,1077.6 325.6,1075 339.6,1071.7 355.6,1067.3 370.6,1062.3 388.6,1055.6 423.6,1041.5 438.6,1035.8 455.6,1029.9 474.6,1023.9 495.6,1017.9 518.6,1011.8 602.6,991.4 637.6,982.3 672.6,972.3 747.6,949.5 781.2,939.7" stroke="#dbdb8d" stroke-dashoffset="3.5"/></g>
<path d="M185.1,720 V1203.9 H809" fill="none" stroke="#1f1f1f" stroke-width="1.85"/>
<path d="M334.1,1203.9 v2.8" stroke="#333" stroke-width="1.7"/>
<text x="331.2" y="1225.6" font-size="20.8" text-anchor="middle" fill="#4d4d4d">10</text>
<path d="M505.8,1203.9 v2.8" stroke="#333" stroke-width="1.7"/>
<text x="502.9" y="1225.6" font-size="20.8" text-anchor="middle" fill="#4d4d4d">20</text>
<path d="M677.9,1203.9 v2.8" stroke="#333" stroke-width="1.7"/>
<text x="675" y="1225.6" font-size="20.8" text-anchor="middle" fill="#4d4d4d">30</text>
<text x="165.1" y="742.3" font-size="15.6" text-anchor="middle" fill="#4d4d4d">0</text>
<path d="M185.1,841.6 h-2.8" stroke="#333" stroke-width="1.9"/>
<text x="165.1" y="847" font-size="15.6" text-anchor="middle" fill="#4d4d4d">−2</text>
<path d="M185.1,946.3 h-2.8" stroke="#333" stroke-width="1.9"/>
<text x="165.1" y="951.7" font-size="15.6" text-anchor="middle" fill="#4d4d4d">−4</text>
<path d="M185.1,1051 h-2.8" stroke="#333" stroke-width="1.9"/>
<text x="165.1" y="1056.4" font-size="15.6" text-anchor="middle" fill="#4d4d4d">−6</text>
<path d="M185.1,1155.7 h-2.8" stroke="#333" stroke-width="1.9"/>
<text x="165.1" y="1161.1" font-size="15.6" text-anchor="middle" fill="#4d4d4d">−8</text>
<text x="511" y="1261.4" font-size="29.3" text-anchor="middle">Age</text>
<text transform="translate(115.2,953.2) rotate(-90)" font-size="22.2" text-anchor="middle">Log2−Transformed Relative Level</text>
<text x="825.9" y="825.2" font-size="14.1">Conjugates</text>
<rect x="824" y="834.2" width="15.3" height="15" fill="#0000ff" fill-opacity="0.09"/>
<path d="M825.4,841.7 h12.3" stroke="#0000ff" stroke-width="1.6" stroke-dasharray="5.8 5" fill="none"/>
<text x="844.2" y="844.5" font-size="14.8">Ala</text>
<rect x="824" y="849.2" width="15.3" height="15" fill="#ff0000" fill-opacity="0.09"/>
<path d="M825.4,856.7 h12.3" stroke="#ff0000" stroke-width="1.6" stroke-dasharray="5.8 5" fill="none"/>
<text x="844.2" y="859.5" font-size="14.8">Arg</text>
<rect x="824" y="864.1" width="15.3" height="15" fill="#cd5b45" fill-opacity="0.09"/>
<path d="M825.4,871.6 h12.3" stroke="#cd5b45" stroke-width="1.6" stroke-dasharray="5.8 5" fill="none"/>
<text x="844.2" y="874.4" font-size="14.8">Asn</text>
<rect x="824" y="879.1" width="15.3" height="15" fill="#b8b81c" fill-opacity="0.09"/>
<path d="M825.4,886.6 h12.3" stroke="#b8b81c" stroke-width="1.6" stroke-dasharray="5.8 5" fill="none"/>
<text x="844.2" y="889.4" font-size="14.8">Asp</text>
<rect x="824" y="894.1" width="15.3" height="15" fill="#191970" fill-opacity="0.09"/>
<path d="M825.4,901.6 h12.3" stroke="#191970" stroke-width="1.6" stroke-dasharray="5.8 5" fill="none"/>
<text x="844.2" y="904.4" font-size="14.8">Citrulline</text>
<rect x="824" y="909.1" width="15.3" height="15" fill="#17becf" fill-opacity="0.09"/>
<path d="M825.4,916.5 h12.3" stroke="#17becf" stroke-width="1.6" stroke-dasharray="5.8 5" fill="none"/>
<text x="844.2" y="919.4" font-size="14.8">Gln</text>
<rect x="824" y="924" width="15.3" height="15" fill="#30608a" fill-opacity="0.09"/>
<path d="M825.4,931.5 h12.3" stroke="#30608a" stroke-width="1.6" stroke-dasharray="5.8 5" fill="none"/>
<text x="844.2" y="934.3" font-size="14.8">Glu</text>
<rect x="824" y="939" width="15.3" height="15" fill="#1f77b4" fill-opacity="0.09"/>
<path d="M825.4,946.5 h12.3" stroke="#1f77b4" stroke-width="1.6" stroke-dasharray="5.8 5" fill="none"/>
<text x="844.2" y="949.3" font-size="14.8">His</text>
<rect x="824" y="954" width="15.3" height="15" fill="#ff6347" fill-opacity="0.09"/>
<path d="M825.4,961.4 h12.3" stroke="#ff6347" stroke-width="1.6" stroke-dasharray="5.8 5" fill="none"/>
<text x="844.2" y="964.3" font-size="14.8">Ile</text>
<rect x="824" y="968.9" width="15.3" height="15" fill="#d62728" fill-opacity="0.09"/>
<path d="M825.4,976.4 h12.3" stroke="#d62728" stroke-width="1.6" stroke-dasharray="5.8 5" fill="none"/>
<text x="844.2" y="979.2" font-size="14.8">Leu</text>
<rect x="824" y="983.9" width="15.3" height="15" fill="#2ca02c" fill-opacity="0.09"/>
<path d="M825.4,991.4 h12.3" stroke="#2ca02c" stroke-width="1.6" stroke-dasharray="5.8 5" fill="none"/>
<text x="844.2" y="994.2" font-size="14.8">Lys</text>
<rect x="824" y="998.9" width="15.3" height="15" fill="#8b0000" fill-opacity="0.09"/>
<path d="M825.4,1006.4 h12.3" stroke="#8b0000" stroke-width="1.6" stroke-dasharray="5.8 5" fill="none"/>
<text x="844.2" y="1009.2" font-size="14.8">Met</text>
<rect x="824" y="1013.8" width="15.3" height="15" fill="#00008b" fill-opacity="0.09"/>
<path d="M825.4,1021.3 h12.3" stroke="#00008b" stroke-width="1.6" stroke-dasharray="5.8 5" fill="none"/>
<text x="844.2" y="1024.1" font-size="14.8">Phe</text>
<rect x="824" y="1028.8" width="15.3" height="15" fill="#7f00ff" fill-opacity="0.09"/>
<path d="M825.4,1036.3 h12.3" stroke="#7f00ff" stroke-width="1.6" stroke-dasharray="5.8 5" fill="none"/>
<text x="844.2" y="1039.1" font-size="14.8">Pro</text>
<rect x="824" y="1043.8" width="15.3" height="15" fill="#c5b0d5" fill-opacity="0.09"/>
<path d="M825.4,1051.3 h12.3" stroke="#c5b0d5" stroke-width="1.6" stroke-dasharray="5.8 5" fill="none"/>
<text x="844.2" y="1054.1" font-size="14.8">Ser</text>
<rect x="824" y="1058.8" width="15.3" height="15" fill="#a52a2a" fill-opacity="0.09"/>
<path d="M825.4,1066.2 h12.3" stroke="#a52a2a" stroke-width="1.6" stroke-dasharray="5.8 5" fill="none"/>
<text x="844.2" y="1069" font-size="14.8">Thr</text>
<rect x="824" y="1073.7" width="15.3" height="15" fill="#ee6fc4" fill-opacity="0.09"/>
<path d="M825.4,1081.2 h12.3" stroke="#ee6fc4" stroke-width="1.6" stroke-dasharray="5.8 5" fill="none"/>
<text x="844.2" y="1084" font-size="14.8">Trp</text>
<rect x="824" y="1088.7" width="15.3" height="15" fill="#dbdb8d" fill-opacity="0.09"/>
<path d="M825.4,1096.2 h12.3" stroke="#dbdb8d" stroke-width="1.6" stroke-dasharray="5.8 5" fill="none"/>
<text x="844.2" y="1099" font-size="14.8">Val</text>
<!-- panel d -->
<g fill-opacity="0.09" stroke="none"><path d="M1045.6,1037.5 1059.6,1037.1 1068.6,1036.6 1076.6,1035.8 1083.6,1034.7 1089.6,1033.4 1138.6,1020.5 1171.6,1012.7 1204.6,1005.6 1218.6,1003 1232.6,1000.7 1256.6,997.6 1284.6,994.7 1337.6,990.5 1366.6,988.8 1395.6,988.2 1423.6,988.5 1450.6,989.8 1476.6,992.1 1492.6,994 1509.6,996.4 1555.6,1003.9 1584.6,1009.2 1613.9,1015.3 1613.9,1060.3 1598.6,1054.2 1583.6,1048.8 1568.6,1044 1551.6,1039 1539.6,1035.8 1527.6,1033.1 1511.6,1030 1495.6,1027.4 1476.6,1024.8 1456.6,1022.5 1435.6,1020.5 1415.6,1019.1 1396.6,1018.2 1377.6,1017.7 1355.6,1017.7 1336.6,1018 1320.6,1018.7 1305.6,1019.8 1288.6,1021.5 1269.6,1024 1242.6,1028 1194.6,1035.6 1170.6,1039.7 1148.6,1044 1110.6,1052.2 1093.6,1056.3 1084.6,1058.9 1076.6,1061.8 1068.6,1065.4 1058.6,1070.4 1045.6,1077.5Z" fill="#ff0000"/></g>
<g fill="none" stroke-width="1.7" stroke-dasharray="5.8 4.7"><path d="M1045.6,1057.5 1066.6,1051.6 1087.6,1045.9 1108.6,1040.5 1128.6,1035.6 1148.6,1031 1168.6,1026.7 1187.6,1022.9 1206.6,1019.4 1225.6,1016.2 1243.6,1013.5 1262.6,1010.9 1280.6,1008.8 1298.6,1007 1316.6,1005.5 1334.6,1004.4 1351.6,1003.6 1369.6,1003.2 1386.6,1003.1 1403.6,1003.3 1420.6,1003.9 1437.6,1004.9 1453.6,1006.1 1470.6,1007.8 1486.6,1009.7 1502.6,1011.9 1518.6,1014.5 1534.6,1017.5 1550.6,1020.9 1566.6,1024.6 1582.6,1028.6 1598.6,1033.1 1613.9,1037.8" stroke="#ff0000"/></g>
<g fill-opacity="0.09" stroke="none"><path d="M1045.6,942.8 1056.6,936.3 1069.6,928 1109.6,900.5 1122.6,891.9 1135.6,883.8 1146.6,877.5 1160.6,870.6 1167.6,867.7 1173.6,865.6 1180.6,863.4 1187.6,861.6 1194.6,860.1 1202.6,858.8 1214.6,857.5 1228.6,856.7 1242.6,856.4 1274.6,856.5 1292.6,856.1 1318.6,855.1 1390.6,851.6 1413.6,850.9 1433.6,850.8 1455.6,851.4 1478.6,852.8 1500.6,854.7 1551.6,859.6 1575.6,861.5 1595.6,862.5 1613.9,862.9 1613.9,934.4 1593.6,928 1572.6,922.1 1551.6,916.9 1530.6,912.3 1509.6,908.4 1487.6,905 1465.6,902.2 1443.6,900.1 1421.6,898.5 1399.6,897.5 1376.6,897.1 1353.6,897.2 1323.6,898.1 1282.6,900.1 1261.6,901.5 1244.6,903.2 1233.6,904.8 1222.6,906.8 1212.6,909.1 1203.6,911.6 1194.6,914.6 1185.6,918.1 1176.6,922 1167.6,926.4 1150.6,935.8 1131.6,947.7 1112.6,960.4 1068.6,991 1045.6,1006Z" fill="#b8b81c"/></g>
<g fill="none" stroke-width="1.7" stroke-dasharray="5.8 4.7"><path d="M1045.6,974.2 1056.6,967.5 1068.6,959.7 1110.6,931 1126.6,920.4 1142.6,910.5 1156.6,902.6 1165.6,898.1 1173.6,894.4 1181.6,891.2 1188.6,888.7 1195.6,886.6 1203.6,884.6 1211.6,883.1 1220.6,881.7 1232.6,880.5 1245.6,879.6 1281.6,878.3 1332.6,875.9 1358.6,875 1382.6,874.6 1405.6,874.6 1427.6,875 1448.6,875.8 1470.6,877.2 1492.6,879 1513.6,881.4 1534.6,884.3 1554.6,887.6 1574.6,891.6 1594.6,896.1 1613.9,901.1" stroke="#b8b81c"/></g>
<g fill-opacity="0.09" stroke="none"><path d="M1045.6,1140.7 1058.6,1139.1 1063.6,1138.2 1067.6,1137.1 1113.6,1120.8 1136.6,1111.6 1145.6,1108.3 1163.6,1103 1182.6,1098.2 1196.6,1095.3 1211.6,1093.1 1242.6,1089.6 1280.6,1086.2 1308.6,1084.5 1336.6,1083.7 1356.6,1083.6 1382.6,1084 1405.6,1083.8 1424.6,1084.2 1444.6,1085.1 1465.6,1086.6 1490.6,1088.8 1536.6,1093.3 1560.6,1095.1 1586.6,1096.5 1613.9,1096.8 1613.9,1142.8 1593.6,1138.2 1576.6,1134.9 1552.6,1130.8 1533.6,1128.1 1508.6,1125.2 1481.6,1122.4 1392.6,1114.3 1376.6,1113.3 1345.6,1113.1 1318.6,1113.7 1292.6,1115.1 1275.6,1116.6 1261.6,1118.1 1246.6,1120.4 1229.6,1123.4 1219.6,1125.6 1195.6,1131.3 1169.6,1137.1 1145.6,1143 1125.6,1147.2 1116.6,1149.5 1107.6,1152.3 1093.6,1157.5 1080.6,1162.7 1068.6,1167.9 1063.6,1170.7 1058.6,1173.9 1045.6,1183.7Z" fill="#191970"/></g>
<g fill="none" stroke-width="1.7" stroke-dasharray="5.8 4.7"><path d="M1045.6,1162.2 1059.6,1156.1 1074.6,1149.9 1089.6,1144.1 1104.6,1138.7 1119.6,1133.6 1134.6,1128.9 1149.6,1124.5 1164.6,1120.5 1179.6,1116.9 1194.6,1113.6 1209.6,1110.6 1225.6,1107.9 1240.6,1105.6 1256.6,1103.6 1271.6,1102 1287.6,1100.6 1302.6,1099.6 1318.6,1098.9 1334.6,1098.5 1350.6,1098.3 1367.6,1098.4 1384.6,1098.8 1402.6,1099.5 1420.6,1100.4 1456.6,1103 1496.6,1106.6 1539.6,1111.2 1613.9,1119.8" stroke="#191970"/></g>
<g fill-opacity="0.09" stroke="none"><path d="M1045.6,911.7 1054.6,906.6 1063.6,900.4 1072.6,893 1082.6,883.7 1091.6,874.6 1100.6,865 1136.6,824.2 1151.6,808 1159.6,799.8 1167.6,792 1174.6,785.7 1181.6,779.8 1189.6,773.7 1196.6,769.1 1203.6,764.9 1211.6,760.8 1219.6,757.2 1228.6,753.9 1237.6,751 1247.6,748.5 1257.6,746.6 1268.6,745.3 1279.6,744.7 1290.6,744.7 1301.6,745.3 1313.6,746.2 1369.6,752 1414.6,757.2 1433.6,759.8 1451.6,762.6 1478.6,767.5 1536.6,779.4 1562.6,783.9 1576.6,785.7 1589.6,786.9 1601.6,787.5 1613.9,787.6 1613.9,872.8 1599.6,865.8 1585.6,859.5 1571.6,853.7 1556.6,848 1542.6,843.2 1527.6,838.7 1512.6,834.7 1497.6,831.3 1485.6,829 1472.6,826.9 1430.6,821.7 1412.6,818.8 1394.6,814.8 1352.6,803.6 1340.6,801.1 1330.6,799.5 1323.6,798.7 1316.6,798.3 1309.6,798.1 1302.6,798.2 1288.6,799.4 1274.6,801.8 1260.6,805.3 1246.6,810 1232.6,815.8 1217.6,823.2 1203.6,831.3 1188.6,841.1 1173.6,852.1 1158.6,864.1 1140.6,879.7 1120.6,898.1 1106.6,911.9 1093.6,925.9 1080.6,941.5 1068.6,957.3 1056.6,974.9 1045.6,992.6Z" fill="#30608a"/></g>
<g fill="none" stroke-width="1.7" stroke-dasharray="5.8 4.7"><path d="M1045.6,952.5 1098.6,893.4 1111.6,879.2 1123.6,866.5 1136.6,853.2 1148.6,841.6 1159.6,831.6 1170.6,822.2 1181.6,813.6 1192.6,805.9 1203.6,799 1214.6,793.1 1225.6,787.9 1237.6,783.2 1249.6,779.4 1261.6,776.4 1271.6,774.6 1282.6,773.1 1292.6,772.3 1303.6,771.9 1314.6,772.1 1326.6,772.8 1338.6,774 1350.6,775.7 1369.6,778.9 1419.6,788.6 1496.6,801.4 1515.6,804.8 1533.6,808.3 1555.6,813.3 1575.6,818.4 1595.6,824.3 1613.9,830.5" stroke="#30608a"/></g>
<g fill-opacity="0.09" stroke="none"><path d="M1045.6,1066.2 1059.6,1067.1 1064.6,1067.1 1068.6,1066.8 1135.6,1057 1173.6,1052 1197.6,1049.2 1220.6,1046.8 1235.6,1045.5 1249.6,1044.7 1281.6,1043.4 1318.6,1041.4 1348.6,1040.1 1379.6,1039.1 1410.6,1038.5 1438.6,1038.2 1466.6,1038.3 1556.6,1039.7 1613.9,1039.5 1613.9,1069.5 1579.6,1065.9 1550.6,1063.5 1526.6,1062.3 1489.6,1061 1439.6,1060.1 1394.6,1059.9 1353.6,1060.5 1314.6,1061.7 1288.6,1063.1 1272.6,1064.4 1236.6,1068.3 1171.6,1074.7 1100.6,1082.7 1077.6,1085.6 1066.6,1087.3 1058.6,1089.5 1045.6,1094.2Z" fill="#2ca02c"/></g>
<g fill="none" stroke-width="1.7" stroke-dasharray="5.8 4.7"><path d="M1045.6,1080.2 1090.6,1073.8 1128.6,1068.7 1163.6,1064.4 1196.6,1060.7 1227.6,1057.7 1257.6,1055.2 1287.6,1053.1 1318.6,1051.5 1351.6,1050.3 1385.6,1049.5 1419.6,1049.2 1455.6,1049.3 1492.6,1049.9 1530.6,1050.9 1570.6,1052.4 1613.9,1054.5" stroke="#2ca02c"/></g>
<g fill-opacity="0.09" stroke="none"><path d="M1045.6,1000.4 1052.6,995.1 1059.6,989.3 1067.6,982.1 1075.6,974.4 1092.6,956.8 1129.6,916 1146.6,898 1155.6,889 1164.6,880.4 1172.6,873.2 1180.6,866.5 1190.6,858.9 1199.6,852.8 1208.6,847.4 1218.6,842.2 1228.6,837.8 1238.6,834.1 1248.6,831 1259.6,828.3 1273.6,825.8 1288.6,824.1 1304.6,823.2 1322.6,823 1345.6,823.6 1368.6,824.9 1390.6,826.8 1412.6,829.6 1425.6,831.6 1438.6,834 1451.6,836.7 1464.6,839.8 1476.6,842.9 1490.6,846.9 1544.6,863.7 1567.6,870.3 1579.6,873.3 1591.6,876 1602.6,878.1 1613.9,879.7 1613.9,964.1 1600.6,955.2 1586.6,946.9 1571.6,938.8 1556.6,931.7 1540.6,925 1524.6,919.1 1507.6,913.6 1489.6,908.5 1459.6,901.1 1387.6,885 1370.6,881.4 1355.6,878.8 1338.6,876.8 1330.6,876.3 1322.6,876.2 1315.6,876.3 1308.6,876.8 1301.6,877.6 1294.6,878.8 1287.6,880.3 1280.6,882.3 1265.6,887.5 1249.6,894.1 1215.6,909.1 1206.6,913.7 1196.6,919.6 1186.6,926.4 1175.6,934.7 1161.6,946.4 1147.6,959.2 1132.6,973.9 1117.6,989.7 1101.6,1007.5 1084.6,1027.3 1066.6,1049.1 1045.6,1075.3Z" fill="#a52a2a"/></g>
<g fill="none" stroke-width="1.7" stroke-dasharray="5.8 4.7"><path d="M1045.6,1038.4 1056.6,1027.3 1069.6,1013.5 1082.6,999.1 1116.6,960.8 1136.6,939.3 1147.6,928.2 1158.6,917.6 1168.6,908.6 1178.6,900.2 1190.6,891.1 1201.6,883.6 1212.6,877 1224.6,870.7 1236.6,865.3 1248.6,860.8 1261.6,856.8 1274.6,853.8 1282.6,852.3 1291.6,851 1299.6,850.2 1308.6,849.6 1317.6,849.4 1326.6,849.4 1335.6,849.7 1344.6,850.3 1363.6,852.2 1385.6,855.3 1428.6,862.6 1457.6,868 1478.6,872.6 1499.6,877.9 1519.6,883.7 1539.6,890.3 1558.6,897.3 1577.6,905.2 1595.6,913.5 1613.9,922.8" stroke="#a52a2a"/></g>
<g fill-opacity="0.09" stroke="none"><path d="M1045.6,1089.5 1090.6,1052.3 1110.6,1036.6 1165.6,996.3 1179.6,986.6 1191.6,978.9 1200.6,973.6 1208.6,969.4 1214.6,966.7 1221.6,964 1228.6,962 1237.6,959.8 1256.6,955.7 1268.6,953.6 1278.6,952.4 1288.6,951.7 1297.6,951.6 1307.6,952 1334.6,954.1 1348.6,955.4 1367.6,957.7 1387.6,960.6 1436.6,968.6 1456.6,972.5 1494.6,980.7 1513.6,985.3 1539.6,992.1 1573.6,999.7 1589.6,1002.8 1613.9,1006.9 1613.9,1090.8 1600.6,1081.8 1588.6,1074.4 1576.6,1068 1564.6,1062.5 1550.6,1056.6 1537.6,1051.9 1525.6,1048.4 1505.6,1043.3 1481.6,1037.8 1440.6,1029.1 1380.6,1015.7 1363.6,1012.3 1349.6,1009.9 1331.6,1007.8 1325.6,1007.5 1318.6,1007.4 1303.6,1008.1 1284.6,1010.5 1272.6,1012.7 1261.6,1015.4 1249.6,1019.2 1240.6,1023 1232.6,1026.9 1213.6,1036.9 1195.6,1045.9 1183.6,1052.3 1167.6,1061.7 1153.6,1071 1142.6,1079.3 1130.6,1089.3 1117.6,1101.2 1103.6,1114.9 1087.6,1131.3 1075.6,1144.3 1061.6,1160.3 1045.6,1179.5Z" fill="#dbdb8d"/></g>
<g fill="none" stroke-width="1.7" stroke-dasharray="5.8 4.7"><path d="M1045.6,1134.5 1062.6,1117.2 1079.6,1100.6 1095.6,1085.6 1110.6,1072.3 1125.6,1059.6 1140.6,1047.7 1155.6,1036.6 1169.6,1027 1183.6,1018.1 1197.6,1010.1 1211.6,1003 1224.6,997.1 1237.6,992.1 1250.6,987.9 1263.6,984.6 1276.6,982.2 1283.6,981.3 1291.6,980.6 1298.6,980.1 1306.6,979.9 1322.6,980.3 1339.6,981.6 1355.6,983.5 1374.6,986.5 1393.6,990 1436.6,998.4 1467.6,1004.7 1492.6,1010.2 1515.6,1015.8 1536.6,1021.5 1556.6,1027.5 1576.6,1034.1 1595.6,1041.2 1613.9,1048.8" stroke="#dbdb8d"/></g>
<path d="M1017.4,721.5 V1205 H1642" fill="none" stroke="#1f1f1f" stroke-width="1.85"/>
<path d="M1166,1205 v2.8" stroke="#333" stroke-width="1.7"/>
<text x="1166.6" y="1225" font-size="14.9" text-anchor="middle" fill="#4d4d4d">10</text>
<path d="M1338.6,1205 v2.8" stroke="#333" stroke-width="1.7"/>
<text x="1339.2" y="1225" font-size="14.9" text-anchor="middle" fill="#4d4d4d">20</text>
<path d="M1510.5,1205 v2.8" stroke="#333" stroke-width="1.7"/>
<text x="1511.1" y="1225" font-size="14.9" text-anchor="middle" fill="#4d4d4d">30</text>
<path d="M1017.4,763.2 h-2.8" stroke="#333" stroke-width="1.9"/>
<text x="1003" y="770.1" font-size="15.6" text-anchor="middle" fill="#4d4d4d">2</text>
<path d="M1017.4,924.4 h-2.8" stroke="#333" stroke-width="1.9"/>
<text x="1003" y="931.3" font-size="15.6" text-anchor="middle" fill="#4d4d4d">0</text>
<path d="M1017.4,1085 h-2.8" stroke="#333" stroke-width="1.9"/>
<text x="1003" y="1091.9" font-size="15.6" text-anchor="middle" fill="#4d4d4d">−2</text>
<text x="1356.6" y="1260.7" font-size="29.3" text-anchor="middle">Age</text>
<text transform="translate(971,959.4) rotate(-90)" font-size="22.2" text-anchor="middle">Log2−Transformed Relative Level</text>
<text x="1652.7" y="914.5" font-size="14.1">Conjugates</text>
<rect x="1656.6" y="917.6" width="15.3" height="15" fill="#ff0000" fill-opacity="0.09"/>
<path d="M1658,925.1 h12.3" stroke="#ff0000" stroke-width="1.6" stroke-dasharray="5.8 5" fill="none"/>
<text x="1676.4" y="927.9" font-size="14.8">Arg</text>
<rect x="1656.6" y="932.6" width="15.3" height="15" fill="#b8b81c" fill-opacity="0.09"/>
<path d="M1658,940.1 h12.3" stroke="#b8b81c" stroke-width="1.6" stroke-dasharray="5.8 5" fill="none"/>
<text x="1676.4" y="942.9" font-size="14.8">Asp</text>
<rect x="1656.6" y="947.5" width="15.3" height="15" fill="#191970" fill-opacity="0.09"/>
<path d="M1658,955 h12.3" stroke="#191970" stroke-width="1.6" stroke-dasharray="5.8 5" fill="none"/>
<text x="1676.4" y="957.8" font-size="14.8">Citrulline</text>
<rect x="1656.6" y="962.5" width="15.3" height="15" fill="#30608a" fill-opacity="0.09"/>
<path d="M1658,970 h12.3" stroke="#30608a" stroke-width="1.6" stroke-dasharray="5.8 5" fill="none"/>
<text x="1676.4" y="972.8" font-size="14.8">Glu</text>
<rect x="1656.6" y="977.5" width="15.3" height="15" fill="#2ca02c" fill-opacity="0.09"/>
<path d="M1658,985 h12.3" stroke="#2ca02c" stroke-width="1.6" stroke-dasharray="5.8 5" fill="none"/>
<text x="1676.4" y="987.8" font-size="14.8">Lys</text>
<rect x="1656.6" y="992.5" width="15.3" height="15" fill="#a52a2a" fill-opacity="0.09"/>
<path d="M1658,999.9 h12.3" stroke="#a52a2a" stroke-width="1.6" stroke-dasharray="5.8 5" fill="none"/>
<text x="1676.4" y="1002.8" font-size="14.8">Thr</text>
<rect x="1656.6" y="1007.4" width="15.3" height="15" fill="#dbdb8d" fill-opacity="0.09"/>
<path d="M1658,1014.9 h12.3" stroke="#dbdb8d" stroke-width="1.6" stroke-dasharray="5.8 5" fill="none"/>
<text x="1676.4" y="1017.7" font-size="14.8">Val</text>
</svg></body></html>
